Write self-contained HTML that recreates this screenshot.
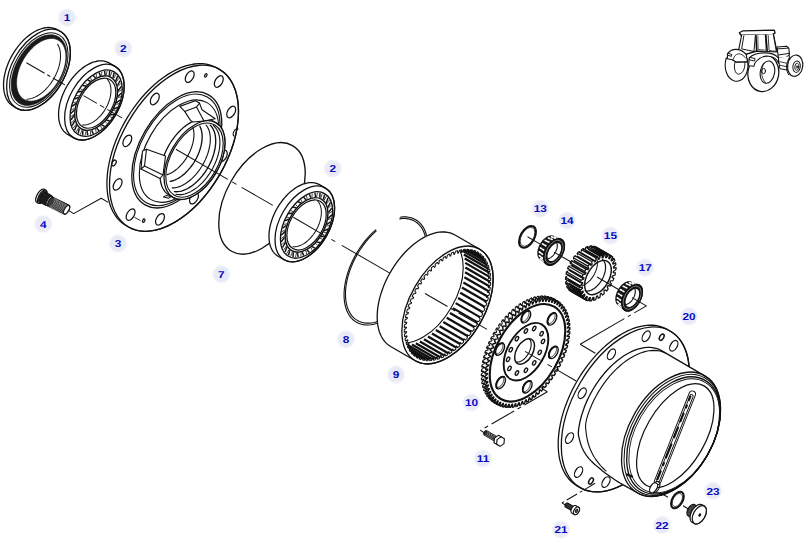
<!DOCTYPE html><html><head><meta charset="utf-8"><style>
html,body{margin:0;padding:0;background:#fff}
svg{display:block}
.lb{font-family:"Liberation Sans",sans-serif;font-weight:bold;font-size:10px;text-rendering:geometricPrecision;fill:#0808c0}
</style></head><body><svg width="808" height="546" viewBox="0 0 808 546">
<defs><radialGradient id="lg"><stop offset="0" stop-color="#e6e9f5"/><stop offset="0.74" stop-color="#e9ecf6"/><stop offset="1" stop-color="#ffffff" stop-opacity="0"/></radialGradient></defs>
<rect width="808" height="546" fill="#fff"/>
<path d="M13.3 106.29 L11.75 105.27 L10.32 104.07 L9.01 102.69 L7.83 101.15 L6.78 99.44 L5.87 97.58 L5.1 95.58 L4.49 93.44 L4.02 91.18 L3.71 88.81 L3.55 86.33 L3.54 83.77 L3.7 81.13 L4 78.42 L4.46 75.66 L5.07 72.87 L5.83 70.05 L6.73 67.23 L7.77 64.4 L8.94 61.6 L10.25 58.82 L11.68 56.09 L13.22 53.42 L14.87 50.82 L16.62 48.3 L18.46 45.88 L20.39 43.57 L22.38 41.38 L24.45 39.31 L26.56 37.39 L28.72 35.61 L30.91 33.99 L33.12 32.54 L35.34 31.26 L37.57 30.16 L39.78 29.25 L41.97 28.52 L44.13 27.99 L46.25 27.65 L48.31 27.5 L50.31 27.56 L52.24 27.81 L54.09 28.26 L55.84 28.9 L57.5 29.73 L60.6 31.53 L62.15 32.54 L63.58 33.74 L64.89 35.12 L66.07 36.66 L67.12 38.37 L68.03 40.23 L68.8 42.23 L69.41 44.37 L69.88 46.63 L70.19 49 L70.35 51.48 L70.36 54.04 L70.2 56.69 L69.9 59.39 L69.44 62.15 L68.83 64.94 L68.07 67.76 L67.17 70.59 L66.13 73.41 L64.96 76.22 L63.65 78.99 L62.22 81.72 L60.68 84.39 L59.03 86.99 L57.28 89.51 L55.44 91.93 L53.51 94.24 L51.52 96.44 L49.45 98.5 L47.34 100.43 L45.18 102.2 L42.99 103.82 L40.78 105.27 L38.56 106.55 L36.33 107.65 L34.12 108.57 L31.93 109.29 L29.77 109.83 L27.65 110.17 L25.59 110.31 L23.59 110.25 L21.66 110 L19.81 109.55 L18.06 108.91 L16.4 108.08 Z" fill="#fff" stroke="#111" stroke-width="1.29" stroke-linejoin="round" stroke-linecap="round" />
<ellipse cx="38.5" cy="69.8" rx="26.52" ry="44.2" transform="rotate(30 38.5 69.8)" fill="none" stroke="#111" stroke-width="1.29" />
<ellipse cx="38.8" cy="69.98" rx="24.36" ry="40.6" transform="rotate(30 38.8 69.98)" fill="none" stroke="#111" stroke-width="1.01" />
<path d="M59.06 81.67 L57.3 84.54 L55.4 87.3 L53.38 89.93 L51.25 92.41 L49.02 94.72 L46.72 96.84 L44.36 98.75 L41.96 100.45 L39.54 101.92 L37.11 103.14 L34.69 104.12 L32.31 104.83 L29.98 105.28 L27.72 105.47 L25.55 105.38 L23.48 105.02 L21.52 104.4 L19.7 103.52 L18.03 102.38 L16.51 101 L15.17 99.39 L14 97.54 L13.03 95.5 L12.26 93.25 L11.69 90.83 L11.32 88.26 L11.17 85.54 L11.23 82.71 L11.5 79.78 L11.98 76.78 L12.67 73.73 L13.55 70.64 L14.63 67.56 L15.9 64.49 L17.34 61.47 L18.94 58.51 L20.7 55.64 L22.6 52.88 L24.62 50.26 L26.75 47.78 L28.98 45.47 L31.28 43.35 L33.64 41.43 L36.04 39.73 L38.46 38.27 L40.89 37.04 L43.31 36.07 L45.69 35.35 L48.02 34.9 L50.28 34.72 L52.45 34.81 L54.52 35.16 L56.48 35.78 L58.3 36.66 L59.97 37.8 L61.49 39.18 L62.83 40.8 L64 42.64 L64.97 44.69 L65.74 46.93 L66.31 49.35 L66.68 51.93 L66.83 54.64 L66.77 57.48 L66.5 60.4 L66.02 63.41 L65.33 66.46 L64.45 69.54 L63.37 72.63 L62.1 75.69 L60.66 78.72 L59.06 81.67 Z M58.97 80.08 L57.41 82.62 L55.73 85.07 L53.94 87.4 L52.05 89.59 L50.08 91.63 L48.04 93.51 L45.95 95.21 L43.82 96.72 L41.67 98.02 L39.52 99.1 L37.39 99.97 L35.28 100.6 L33.21 101 L31.21 101.16 L29.28 101.08 L27.45 100.77 L25.71 100.22 L24.1 99.44 L22.62 98.43 L21.27 97.21 L20.08 95.77 L19.05 94.14 L18.19 92.33 L17.51 90.34 L17 88.2 L16.68 85.91 L16.54 83.51 L16.6 81 L16.83 78.4 L17.26 75.74 L17.87 73.04 L18.65 70.31 L19.61 67.57 L20.73 64.86 L22.01 62.18 L23.43 59.56 L24.99 57.02 L26.67 54.57 L28.46 52.24 L30.35 50.05 L32.32 48 L34.36 46.12 L36.45 44.43 L38.58 42.92 L40.73 41.62 L42.88 40.54 L45.01 39.67 L47.12 39.04 L49.19 38.64 L51.19 38.48 L53.12 38.55 L54.95 38.87 L56.69 39.42 L58.3 40.2 L59.78 41.21 L61.13 42.43 L62.32 43.87 L63.35 45.5 L64.21 47.31 L64.89 49.3 L65.4 51.44 L65.72 53.73 L65.86 56.13 L65.8 58.64 L65.57 61.24 L65.14 63.9 L64.53 66.6 L63.75 69.33 L62.79 72.06 L61.67 74.78 L60.39 77.46 L58.97 80.08 Z" fill="#1a1a1a" fill-rule="evenodd" stroke="#111" stroke-width="0.6"/>
<path d="M57.68 44.31 L58.43 45.67 L59.07 47.15 L59.59 48.73 L60 50.42 L60.29 52.2 L60.46 54.06 L60.51 55.99 L60.44 57.99 L60.25 60.04 L59.95 62.13 L59.52 64.26 L58.98 66.41 L58.33 68.57 L57.56 70.73 L56.69 72.87 L55.72 75 L54.66 77.1 L53.5 79.15 L52.26 81.15 L50.94 83.09 L49.54 84.96 L48.08 86.74 L46.57 88.43 L45 90.03 L43.39 91.52 L41.74 92.89 L40.07 94.14 L38.38 95.26 L36.69 96.25 L34.99 97.1 L33.3 97.81 L31.62 98.38 L29.97 98.79 L28.35 99.05 L26.77 99.16" fill="none" stroke="#111" stroke-width="1.01" stroke-linejoin="round" stroke-linecap="round" />
<path d="M67.69 134.43 L66.24 133.47 L64.9 132.35 L63.68 131.07 L62.57 129.62 L61.59 128.03 L60.74 126.29 L60.03 124.42 L59.45 122.42 L59.02 120.31 L58.72 118.09 L58.58 115.78 L58.57 113.38 L58.71 110.92 L59 108.39 L59.43 105.81 L60 103.2 L60.7 100.57 L61.55 97.93 L62.52 95.29 L63.62 92.67 L64.84 90.07 L66.17 87.52 L67.61 85.03 L69.15 82.6 L70.79 80.25 L72.51 77.98 L74.31 75.82 L76.18 73.77 L78.1 71.84 L80.08 70.04 L82.09 68.39 L84.14 66.87 L86.21 65.52 L88.28 64.32 L90.36 63.3 L92.43 62.44 L94.48 61.76 L96.5 61.26 L98.47 60.94 L100.4 60.81 L102.27 60.86 L104.07 61.1 L105.8 61.52 L107.44 62.11 L108.99 62.89 L115.05 66.39 L116.5 67.34 L117.84 68.46 L119.06 69.75 L120.17 71.19 L121.14 72.79 L121.99 74.52 L122.71 76.39 L123.28 78.39 L123.72 80.51 L124.01 82.72 L124.16 85.04 L124.17 87.43 L124.02 89.9 L123.74 92.43 L123.31 95.01 L122.74 97.62 L122.03 100.25 L121.19 102.89 L120.22 105.53 L119.12 108.15 L117.9 110.74 L116.57 113.29 L115.13 115.79 L113.58 118.22 L111.95 120.57 L110.23 122.83 L108.43 124.99 L106.56 127.04 L104.64 128.97 L102.66 130.77 L100.64 132.43 L98.6 133.94 L96.53 135.3 L94.45 136.49 L92.38 137.52 L90.31 138.38 L88.26 139.06 L86.24 139.56 L84.26 139.87 L82.34 140.01 L80.47 139.95 L78.66 139.72 L76.94 139.3 L75.3 138.7 L73.75 137.93 Z" fill="#fff" stroke="#111" stroke-width="1.29" stroke-linejoin="round" stroke-linecap="round" />
<ellipse cx="94.4" cy="102.16" rx="24.78" ry="41.3" transform="rotate(30 94.4 102.16)" fill="none" stroke="#111" stroke-width="1.29" />
<ellipse cx="96.13" cy="103.16" rx="21.72" ry="36.2" transform="rotate(30 96.13 103.16)" fill="none" stroke="#111" stroke-width="1.34" />
<line x1="114.16" y1="114.28" x2="110.3" y2="115.02" stroke="#111" stroke-width="1.46" />
<line x1="112.01" y1="117.65" x2="109.4" y2="116.33" stroke="#111" stroke-width="0.78" />
<line x1="109.71" y1="120.76" x2="106.2" y2="120.35" stroke="#111" stroke-width="1.46" />
<line x1="107.19" y1="123.72" x2="105.16" y2="121.48" stroke="#111" stroke-width="0.78" />
<line x1="104.58" y1="126.36" x2="101.6" y2="124.83" stroke="#111" stroke-width="1.46" />
<line x1="101.81" y1="128.76" x2="100.47" y2="125.72" stroke="#111" stroke-width="0.78" />
<line x1="99.03" y1="130.8" x2="96.72" y2="128.21" stroke="#111" stroke-width="1.46" />
<line x1="96.15" y1="132.52" x2="95.57" y2="128.83" stroke="#111" stroke-width="0.78" />
<line x1="93.33" y1="133.85" x2="91.81" y2="130.34" stroke="#111" stroke-width="1.46" />
<line x1="90.48" y1="134.81" x2="90.69" y2="130.65" stroke="#111" stroke-width="0.78" />
<line x1="87.77" y1="135.36" x2="87.12" y2="131.11" stroke="#111" stroke-width="1.46" />
<line x1="85.1" y1="135.51" x2="86.08" y2="131.09" stroke="#111" stroke-width="0.78" />
<line x1="82.63" y1="135.25" x2="82.88" y2="130.48" stroke="#111" stroke-width="1.46" />
<line x1="80.27" y1="134.58" x2="81.98" y2="130.13" stroke="#111" stroke-width="0.78" />
<line x1="78.16" y1="133.54" x2="79.31" y2="128.47" stroke="#111" stroke-width="1.46" />
<line x1="76.24" y1="132.09" x2="78.59" y2="127.82" stroke="#111" stroke-width="0.78" />
<line x1="74.6" y1="130.3" x2="76.58" y2="125.2" stroke="#111" stroke-width="1.46" />
<line x1="73.2" y1="128.14" x2="76.08" y2="124.27" stroke="#111" stroke-width="0.78" />
<line x1="72.12" y1="125.71" x2="74.83" y2="120.82" stroke="#111" stroke-width="1.46" />
<line x1="71.32" y1="122.93" x2="74.57" y2="119.66" stroke="#111" stroke-width="0.78" />
<line x1="70.84" y1="119.98" x2="74.15" y2="115.55" stroke="#111" stroke-width="1.46" />
<line x1="70.68" y1="116.74" x2="74.15" y2="114.23" stroke="#111" stroke-width="0.78" />
<line x1="70.83" y1="113.41" x2="74.57" y2="109.67" stroke="#111" stroke-width="1.46" />
<line x1="71.31" y1="109.87" x2="74.82" y2="108.24" stroke="#111" stroke-width="0.78" />
<line x1="72.09" y1="106.32" x2="76.07" y2="103.45" stroke="#111" stroke-width="1.46" />
<line x1="73.19" y1="102.65" x2="76.57" y2="101.99" stroke="#111" stroke-width="0.78" />
<line x1="74.55" y1="99.08" x2="78.58" y2="97.23" stroke="#111" stroke-width="1.46" />
<line x1="76.22" y1="95.47" x2="79.29" y2="95.81" stroke="#111" stroke-width="0.78" />
<line x1="78.1" y1="92.04" x2="81.96" y2="91.3" stroke="#111" stroke-width="1.46" />
<line x1="80.25" y1="88.67" x2="82.86" y2="89.99" stroke="#111" stroke-width="0.78" />
<line x1="82.55" y1="85.55" x2="86.06" y2="85.96" stroke="#111" stroke-width="1.46" />
<line x1="85.08" y1="82.6" x2="87.1" y2="84.83" stroke="#111" stroke-width="0.78" />
<line x1="87.68" y1="79.96" x2="90.67" y2="81.49" stroke="#111" stroke-width="1.46" />
<line x1="90.45" y1="77.55" x2="91.79" y2="80.59" stroke="#111" stroke-width="0.78" />
<line x1="93.24" y1="75.52" x2="95.54" y2="78.1" stroke="#111" stroke-width="1.46" />
<line x1="96.12" y1="73.79" x2="96.7" y2="77.49" stroke="#111" stroke-width="0.78" />
<line x1="98.94" y1="72.47" x2="100.45" y2="75.97" stroke="#111" stroke-width="1.46" />
<line x1="101.78" y1="71.51" x2="101.57" y2="75.67" stroke="#111" stroke-width="0.78" />
<line x1="104.5" y1="70.96" x2="105.14" y2="75.21" stroke="#111" stroke-width="1.46" />
<line x1="107.16" y1="70.81" x2="106.18" y2="75.23" stroke="#111" stroke-width="0.78" />
<line x1="109.64" y1="71.06" x2="109.38" y2="75.84" stroke="#111" stroke-width="1.46" />
<line x1="111.99" y1="71.73" x2="110.28" y2="76.19" stroke="#111" stroke-width="0.78" />
<line x1="114.1" y1="72.78" x2="112.96" y2="77.85" stroke="#111" stroke-width="1.46" />
<line x1="116.03" y1="74.23" x2="113.67" y2="78.5" stroke="#111" stroke-width="0.78" />
<line x1="117.66" y1="76.01" x2="115.69" y2="81.12" stroke="#111" stroke-width="1.46" />
<line x1="119.06" y1="78.18" x2="116.19" y2="82.05" stroke="#111" stroke-width="0.78" />
<line x1="120.14" y1="80.61" x2="117.44" y2="85.5" stroke="#111" stroke-width="1.46" />
<line x1="120.95" y1="83.38" x2="117.69" y2="86.66" stroke="#111" stroke-width="0.78" />
<line x1="121.42" y1="86.34" x2="118.12" y2="90.76" stroke="#111" stroke-width="1.46" />
<line x1="121.59" y1="89.58" x2="118.12" y2="92.09" stroke="#111" stroke-width="0.78" />
<line x1="121.43" y1="92.91" x2="117.7" y2="96.65" stroke="#111" stroke-width="1.46" />
<line x1="120.95" y1="96.45" x2="117.44" y2="98.08" stroke="#111" stroke-width="0.78" />
<line x1="120.17" y1="100" x2="116.2" y2="102.86" stroke="#111" stroke-width="1.46" />
<line x1="119.07" y1="103.66" x2="115.7" y2="104.33" stroke="#111" stroke-width="0.78" />
<line x1="117.71" y1="107.24" x2="113.69" y2="109.09" stroke="#111" stroke-width="1.46" />
<line x1="116.04" y1="110.85" x2="112.97" y2="110.51" stroke="#111" stroke-width="0.78" />
<ellipse cx="96.13" cy="103.16" rx="17.82" ry="29.7" transform="rotate(30 96.13 103.16)" fill="none" stroke="#111" stroke-width="1.46" />
<ellipse cx="96.13" cy="103.16" rx="16.38" ry="27.3" transform="rotate(30 96.13 103.16)" fill="#fff" stroke="#111" stroke-width="1.23" />
<path d="M107.3 79.36 L108.06 80.26 L108.75 81.26 L109.34 82.36 L109.85 83.55 L110.27 84.83 L110.59 86.18 L110.82 87.62 L110.95 89.11 L110.98 90.67 L110.92 92.28 L110.76 93.93 L110.5 95.61 L110.15 97.32 L109.71 99.05 L109.17 100.78 L108.55 102.52 L107.85 104.24 L107.06 105.95 L106.19 107.63 L105.25 109.27 L104.25 110.87 L103.18 112.42 L102.05 113.91 L100.87 115.33 L99.64 116.68 L98.38 117.95 L97.08 119.12 L95.75 120.21 L94.41 121.2 L93.05 122.08 L91.69 122.85 L90.32 123.51 L88.97 124.06 L87.62 124.49 L86.3 124.79 L85.01 124.98 L83.75 125.04 L82.53 124.98" fill="none" stroke="#111" stroke-width="1.01" stroke-linejoin="round" stroke-linecap="round" />
<path d="M125.9 225.54 L122.82 223.51 L119.98 221.1 L117.39 218.33 L115.07 215.21 L113.01 211.76 L111.24 207.99 L109.77 203.93 L108.59 199.58 L107.72 194.98 L107.17 190.14 L106.92 185.09 L106.99 179.85 L107.37 174.45 L108.06 168.92 L109.07 163.28 L110.37 157.56 L111.98 151.78 L113.87 145.99 L116.04 140.19 L118.49 134.43 L121.19 128.72 L124.13 123.11 L127.31 117.61 L130.7 112.25 L134.29 107.06 L138.06 102.06 L141.99 97.28 L146.07 92.74 L150.26 88.46 L154.57 84.47 L158.95 80.78 L163.4 77.42 L167.88 74.39 L172.38 71.71 L176.88 69.4 L181.35 67.46 L185.77 65.91 L190.12 64.76 L194.38 64 L198.52 63.65 L202.54 63.7 L206.4 64.16 L210.1 65.02 L213.6 66.27 L216.9 67.92 L219.5 69.42 L222.58 71.46 L225.42 73.86 L228.01 76.63 L230.34 79.75 L232.39 83.2 L234.16 86.97 L235.63 91.04 L236.81 95.38 L237.68 99.99 L238.24 104.82 L238.48 109.87 L238.41 115.11 L238.03 120.51 L237.34 126.04 L236.33 131.68 L235.03 137.4 L233.43 143.18 L231.53 148.98 L229.36 154.77 L226.92 160.54 L224.21 166.24 L221.27 171.85 L218.09 177.36 L214.7 182.71 L211.11 187.9 L207.34 192.9 L203.41 197.68 L199.34 202.22 L195.14 206.5 L190.84 210.49 L186.45 214.18 L182.01 217.55 L177.52 220.58 L173.02 223.25 L168.53 225.56 L164.06 227.5 L159.64 229.05 L155.28 230.2 L151.03 230.96 L146.88 231.31 L142.86 231.26 L139 230.8 L135.3 229.95 L131.8 228.69 L128.5 227.04 Z" fill="#fff" stroke="#111" stroke-width="1.29" stroke-linejoin="round" stroke-linecap="round" />
<ellipse cx="174" cy="148.23" rx="52.78" ry="91" transform="rotate(30 174 148.23)" fill="none" stroke="#111" stroke-width="1.29" />
<ellipse cx="189.7" cy="76.7" rx="3.65" ry="6.3" transform="rotate(30 189.7 76.7)" fill="none" stroke="#111" stroke-width="1.23" />
<ellipse cx="218.8" cy="81.5" rx="3.65" ry="6.3" transform="rotate(30 218.8 81.5)" fill="none" stroke="#111" stroke-width="1.23" />
<ellipse cx="154.8" cy="99" rx="3.65" ry="6.3" transform="rotate(30 154.8 99)" fill="none" stroke="#111" stroke-width="1.23" />
<ellipse cx="231.2" cy="112" rx="3.65" ry="6.3" transform="rotate(30 231.2 112)" fill="none" stroke="#111" stroke-width="1.23" />
<ellipse cx="127.3" cy="140.8" rx="3.65" ry="6.3" transform="rotate(30 127.3 140.8)" fill="none" stroke="#111" stroke-width="1.23" />
<ellipse cx="117.6" cy="184.4" rx="3.65" ry="6.3" transform="rotate(30 117.6 184.4)" fill="none" stroke="#111" stroke-width="1.23" />
<ellipse cx="130.6" cy="214.6" rx="3.65" ry="6.3" transform="rotate(30 130.6 214.6)" fill="none" stroke="#111" stroke-width="1.23" />
<ellipse cx="160" cy="219.3" rx="3.65" ry="6.3" transform="rotate(30 160 219.3)" fill="none" stroke="#111" stroke-width="1.23" />
<ellipse cx="194" cy="198.2" rx="3.65" ry="6.3" transform="rotate(30 194 198.2)" fill="none" stroke="#111" stroke-width="1.23" />
<ellipse cx="222.8" cy="156" rx="3.65" ry="6.3" transform="rotate(30 222.8 156)" fill="none" stroke="#111" stroke-width="1.23" />
<ellipse cx="205.8" cy="75.4" rx="1.04" ry="1.8" transform="rotate(30 205.8 75.4)" fill="none" stroke="#111" stroke-width="1.23" />
<ellipse cx="143.7" cy="220.6" rx="1.04" ry="1.8" transform="rotate(30 143.7 220.6)" fill="none" stroke="#111" stroke-width="1.23" />
<ellipse cx="114" cy="163" rx="1.86" ry="3.2" transform="rotate(30 114 163)" fill="none" stroke="#111" stroke-width="1.23" />
<path d="M234 135.96 L233.86 135.87 L233.74 135.77 L233.63 135.65 L233.52 135.51 L233.43 135.36 L233.36 135.19 L233.29 135.01 L233.24 134.82 L233.2 134.62 L233.18 134.41 L233.17 134.19 L233.17 133.96 L233.19 133.72 L233.22 133.48 L233.26 133.23 L233.32 132.98 L233.39 132.72 L233.47 132.47 L233.57 132.21 L233.67 131.96 L233.79 131.71 L233.92 131.46 L234.06 131.22 L234.21 130.98 L234.37 130.76 L234.53 130.54 L234.71 130.33 L234.89 130.13 L235.07 129.94 L235.26 129.76 L235.45 129.6 L235.65 129.45 L235.85 129.32 L236.04 129.2 L236.24 129.1 L236.44 129.02 L236.63 128.95 L236.82 128.9 L237.01 128.86 L237.19 128.85 L237.37 128.85 L237.54 128.87 L237.7 128.91 L237.85 128.96 L238 129.04" fill="none" stroke="#111" stroke-width="1.12" stroke-linejoin="round" stroke-linecap="round" />
<ellipse cx="176.8" cy="149.85" rx="36.83" ry="63.5" transform="rotate(30 176.8 149.85)" fill="#fff" stroke="#111" stroke-width="1.29" />
<ellipse cx="176.8" cy="149.85" rx="35.38" ry="61" transform="rotate(30 176.8 149.85)" fill="none" stroke="#111" stroke-width="1.12" />
<ellipse cx="179" cy="151.12" rx="32.48" ry="56" transform="rotate(30 179 151.12)" fill="none" stroke="#111" stroke-width="1.12" />
<path d="M169 195.02 L167.55 194.06 L166.2 192.92 L164.98 191.61 L163.88 190.14 L162.91 188.51 L162.07 186.73 L161.38 184.81 L160.82 182.75 L160.41 180.58 L160.15 178.29 L160.03 175.91 L160.06 173.43 L160.24 170.88 L160.57 168.27 L161.05 165.6 L161.66 162.9 L162.42 160.17 L163.31 157.43 L164.34 154.69 L165.5 151.97 L166.77 149.27 L168.16 146.62 L169.66 144.02 L171.27 141.49 L172.96 139.03 L174.74 136.67 L176.6 134.41 L178.53 132.27 L180.51 130.25 L182.54 128.36 L184.62 126.62 L186.72 125.03 L188.84 123.6 L190.96 122.33 L193.09 121.24 L195.2 120.32 L197.29 119.59 L199.34 119.05 L201.36 118.69 L203.32 118.52 L205.21 118.55 L207.04 118.76 L208.78 119.17 L210.44 119.76 L212 120.54 L216 122.86 L217.45 123.82 L218.8 124.96 L220.02 126.26 L221.12 127.74 L222.09 129.37 L222.93 131.15 L223.62 133.07 L224.18 135.12 L224.59 137.3 L224.85 139.59 L224.97 141.97 L224.94 144.45 L224.76 147 L224.43 149.61 L223.95 152.28 L223.34 154.98 L222.58 157.71 L221.69 160.45 L220.66 163.19 L219.5 165.91 L218.23 168.61 L216.84 171.26 L215.34 173.86 L213.73 176.39 L212.04 178.84 L210.26 181.2 L208.4 183.46 L206.47 185.61 L204.49 187.63 L202.46 189.52 L200.38 191.26 L198.28 192.85 L196.16 194.28 L194.04 195.55 L191.91 196.64 L189.8 197.55 L187.71 198.28 L185.66 198.83 L183.64 199.19 L181.68 199.35 L179.79 199.33 L177.96 199.11 L176.22 198.71 L174.56 198.11 L173 197.34 Z" fill="#fff" stroke="#111" stroke-width="1.29" stroke-linejoin="round" stroke-linecap="round" />
<path d="M179.8 106.4 L195.4 100.7 L199.5 103.1 L202 109.7 L215.2 118.8 L204 121 L193 122 L190.5 120.4 L184.7 111.4 Z" fill="#fff" stroke="#111" stroke-width="1.12" stroke-linejoin="round" stroke-linecap="round" />
<path d="M184.7 111.4 L196.5 107 L199.5 103.1" fill="none" stroke="#111" stroke-width="1.12" stroke-linejoin="round" stroke-linecap="round" />
<path d="M196.5 107 L204 121" fill="none" stroke="#111" stroke-width="1.12" stroke-linejoin="round" stroke-linecap="round" />
<path d="M146.5 149.3 L165.5 156 L163 175 L160 178.5 L141 169 L142.5 151 Z" fill="#fff" stroke="#111" stroke-width="1.12" stroke-linejoin="round" stroke-linecap="round" />
<path d="M146.5 149.3 L144.5 166 L163 175" fill="none" stroke="#111" stroke-width="1.12" stroke-linejoin="round" stroke-linecap="round" />
<path d="M144.5 166 L141 169" fill="none" stroke="#111" stroke-width="1.12" stroke-linejoin="round" stroke-linecap="round" />
<path d="M163.5 197 L166 195.6 L171 196.6 L168.5 198.3 L163.5 197" fill="none" stroke="#111" stroke-width="1.01" stroke-linejoin="round" stroke-linecap="round" />
<ellipse cx="194.5" cy="160.1" rx="24.94" ry="43" transform="rotate(30 194.5 160.1)" fill="#fff" stroke="#111" stroke-width="1.29" />
<ellipse cx="194.5" cy="160.1" rx="23.49" ry="40.5" transform="rotate(30 194.5 160.1)" fill="none" stroke="#111" stroke-width="1.12" />
<path d="M213.31 125.52 L214.52 126.61 L215.62 127.86 L216.61 129.26 L217.47 130.8 L218.21 132.49 L218.81 134.3 L219.29 136.23 L219.63 138.27 L219.83 140.41 L219.9 142.65 L219.82 144.96 L219.61 147.33 L219.27 149.77 L218.78 152.24 L218.17 154.75 L217.42 157.28 L216.55 159.81 L215.56 162.34 L214.45 164.85 L213.23 167.32 L211.91 169.76 L210.49 172.14 L208.97 174.45 L207.37 176.69 L205.7 178.83 L203.95 180.88 L202.15 182.82 L200.3 184.63 L198.4 186.32 L196.47 187.87 L194.52 189.28 L192.56 190.54 L190.6 191.63 L188.64 192.57 L186.69 193.34 L184.78 193.93 L182.89 194.36 L181.06 194.6 L179.27 194.67 L177.55 194.56 L175.9 194.27" fill="none" stroke="#111" stroke-width="1.12" stroke-linejoin="round" stroke-linecap="round" />
<path d="M210.19 125.13 L211.3 126.32 L212.3 127.66 L213.17 129.14 L213.92 130.76 L214.55 132.51 L215.04 134.38 L215.4 136.36 L215.63 138.45 L215.72 140.62 L215.68 142.87 L215.49 145.19 L215.18 147.57 L214.73 150 L214.15 152.45 L213.43 154.93 L212.6 157.42 L211.64 159.9 L210.57 162.36 L209.39 164.8 L208.1 167.19 L206.72 169.53 L205.24 171.81 L203.68 174.01 L202.04 176.13 L200.33 178.15 L198.57 180.05 L196.75 181.85 L194.9 183.51 L193.01 185.04 L191.1 186.43 L189.17 187.67 L187.24 188.76 L185.32 189.68 L183.41 190.44 L181.53 191.03 L179.68 191.45 L177.88 191.69 L176.13 191.76 L174.44 191.65" fill="none" stroke="#111" stroke-width="1.34" stroke-linejoin="round" stroke-linecap="round" />
<path d="M206.07 124.98 L207.03 126.27 L207.87 127.7 L208.59 129.25 L209.2 130.93 L209.67 132.73 L210.02 134.64 L210.24 136.64 L210.33 138.73 L210.29 140.89 L210.11 143.13 L209.81 145.41 L209.37 147.74 L208.82 150.1 L208.13 152.49 L207.33 154.88 L206.41 157.26 L205.38 159.63 L204.24 161.98 L203 164.28 L201.67 166.53 L200.25 168.72 L198.75 170.84 L197.17 172.87 L195.53 174.81 L193.84 176.65 L192.09 178.37 L190.31 179.97 L188.49 181.44 L186.65 182.78 L184.8 183.97 L182.94 185.01 L181.09 185.9 L179.26 186.63 L177.45 187.19 L175.67 187.59 L173.94 187.82 L172.26 187.89" fill="none" stroke="#111" stroke-width="1.12" stroke-linejoin="round" stroke-linecap="round" />
<path d="M199.86 126.3 L200.53 127.73 L201.09 129.27 L201.53 130.93 L201.85 132.68 L202.06 134.52 L202.14 136.44 L202.1 138.43 L201.94 140.49 L201.67 142.59 L201.27 144.74 L200.76 146.91 L200.13 149.1 L199.39 151.3 L198.54 153.5 L197.6 155.68 L196.55 157.84 L195.41 159.96 L194.18 162.03 L192.87 164.05 L191.49 165.99 L190.04 167.86 L188.53 169.65 L186.97 171.34 L185.36 172.92 L183.72 174.39 L182.05 175.75 L180.35 176.97 L178.65 178.07 L176.94 179.02 L175.24 179.84 L173.55 180.5 L171.89 181.02 L170.25 181.38" fill="none" stroke="#111" stroke-width="1.34" stroke-linejoin="round" stroke-linecap="round" />
<path d="M192.98 127.61 L193.38 129.09 L193.68 130.66 L193.87 132.31 L193.95 134.03 L193.93 135.81 L193.8 137.65 L193.56 139.54 L193.22 141.46 L192.77 143.41 L192.23 145.37 L191.58 147.35 L190.84 149.32 L190.01 151.29 L189.09 153.23 L188.09 155.14 L187 157.02 L185.85 158.84 L184.63 160.61 L183.34 162.31 L182 163.94 L180.61 165.49 L179.18 166.95 L177.72 168.31 L176.22 169.56 L174.71 170.71 L173.18 171.74 L171.65 172.65 L170.12 173.44 L168.6 174.1 L167.09 174.63" fill="none" stroke="#111" stroke-width="1.12" stroke-linejoin="round" stroke-linecap="round" />
<ellipse cx="262" cy="198.4" rx="35.38" ry="61" transform="rotate(30 262 198.4)" fill="none" stroke="#111" stroke-width="1.34" />
<path d="M278.09 256.2 L276.64 255.25 L275.3 254.13 L274.08 252.85 L272.97 251.4 L271.99 249.81 L271.14 248.07 L270.43 246.2 L269.85 244.2 L269.42 242.09 L269.12 239.87 L268.98 237.56 L268.97 235.16 L269.11 232.69 L269.4 230.17 L269.83 227.59 L270.4 224.98 L271.1 222.35 L271.95 219.71 L272.92 217.07 L274.02 214.45 L275.24 211.85 L276.57 209.3 L278.01 206.81 L279.55 204.38 L281.19 202.03 L282.91 199.76 L284.71 197.6 L286.58 195.55 L288.5 193.62 L290.48 191.82 L292.49 190.17 L294.54 188.65 L296.61 187.3 L298.68 186.1 L300.76 185.07 L302.83 184.22 L304.88 183.54 L306.9 183.04 L308.87 182.72 L310.8 182.59 L312.67 182.64 L314.47 182.88 L316.2 183.29 L317.84 183.89 L319.39 184.67 L325.45 188.17 L326.9 189.12 L328.24 190.24 L329.46 191.53 L330.57 192.97 L331.54 194.57 L332.39 196.3 L333.11 198.17 L333.68 200.17 L334.12 202.28 L334.41 204.5 L334.56 206.82 L334.57 209.21 L334.42 211.68 L334.14 214.21 L333.71 216.78 L333.14 219.39 L332.43 222.03 L331.59 224.67 L330.62 227.31 L329.52 229.93 L328.3 232.52 L326.97 235.07 L325.53 237.57 L323.98 240 L322.35 242.35 L320.63 244.61 L318.83 246.77 L316.96 248.82 L315.04 250.75 L313.06 252.55 L311.04 254.21 L309 255.72 L306.93 257.08 L304.85 258.27 L302.78 259.3 L300.71 260.16 L298.66 260.84 L296.64 261.33 L294.66 261.65 L292.74 261.79 L290.87 261.73 L289.06 261.5 L287.34 261.08 L285.7 260.48 L284.15 259.7 Z" fill="#fff" stroke="#111" stroke-width="1.29" stroke-linejoin="round" stroke-linecap="round" />
<ellipse cx="304.8" cy="223.94" rx="24.78" ry="41.3" transform="rotate(30 304.8 223.94)" fill="none" stroke="#111" stroke-width="1.29" />
<ellipse cx="306.53" cy="224.94" rx="21.72" ry="36.2" transform="rotate(30 306.53 224.94)" fill="none" stroke="#111" stroke-width="1.34" />
<line x1="324.56" y1="236.06" x2="320.7" y2="236.8" stroke="#111" stroke-width="1.46" />
<line x1="322.41" y1="239.43" x2="319.8" y2="238.11" stroke="#111" stroke-width="0.78" />
<line x1="320.11" y1="242.54" x2="316.6" y2="242.13" stroke="#111" stroke-width="1.46" />
<line x1="317.59" y1="245.5" x2="315.56" y2="243.26" stroke="#111" stroke-width="0.78" />
<line x1="314.98" y1="248.14" x2="312" y2="246.61" stroke="#111" stroke-width="1.46" />
<line x1="312.21" y1="250.54" x2="310.87" y2="247.5" stroke="#111" stroke-width="0.78" />
<line x1="309.43" y1="252.58" x2="307.12" y2="249.99" stroke="#111" stroke-width="1.46" />
<line x1="306.55" y1="254.3" x2="305.97" y2="250.61" stroke="#111" stroke-width="0.78" />
<line x1="303.73" y1="255.63" x2="302.21" y2="252.12" stroke="#111" stroke-width="1.46" />
<line x1="300.88" y1="256.59" x2="301.09" y2="252.43" stroke="#111" stroke-width="0.78" />
<line x1="298.17" y1="257.14" x2="297.52" y2="252.89" stroke="#111" stroke-width="1.46" />
<line x1="295.5" y1="257.29" x2="296.48" y2="252.87" stroke="#111" stroke-width="0.78" />
<line x1="293.03" y1="257.03" x2="293.28" y2="252.26" stroke="#111" stroke-width="1.46" />
<line x1="290.67" y1="256.36" x2="292.38" y2="251.91" stroke="#111" stroke-width="0.78" />
<line x1="288.56" y1="255.32" x2="289.71" y2="250.25" stroke="#111" stroke-width="1.46" />
<line x1="286.64" y1="253.86" x2="288.99" y2="249.6" stroke="#111" stroke-width="0.78" />
<line x1="285" y1="252.08" x2="286.98" y2="246.98" stroke="#111" stroke-width="1.46" />
<line x1="283.6" y1="249.92" x2="286.48" y2="246.05" stroke="#111" stroke-width="0.78" />
<line x1="282.52" y1="247.48" x2="285.23" y2="242.6" stroke="#111" stroke-width="1.46" />
<line x1="281.72" y1="244.71" x2="284.97" y2="241.44" stroke="#111" stroke-width="0.78" />
<line x1="281.24" y1="241.76" x2="284.55" y2="237.33" stroke="#111" stroke-width="1.46" />
<line x1="281.08" y1="238.52" x2="284.55" y2="236" stroke="#111" stroke-width="0.78" />
<line x1="281.23" y1="235.18" x2="284.97" y2="231.45" stroke="#111" stroke-width="1.46" />
<line x1="281.71" y1="231.65" x2="285.22" y2="230.02" stroke="#111" stroke-width="0.78" />
<line x1="282.49" y1="228.1" x2="286.47" y2="225.23" stroke="#111" stroke-width="1.46" />
<line x1="283.59" y1="224.43" x2="286.97" y2="223.77" stroke="#111" stroke-width="0.78" />
<line x1="284.95" y1="220.86" x2="288.98" y2="219.01" stroke="#111" stroke-width="1.46" />
<line x1="286.62" y1="217.25" x2="289.69" y2="217.59" stroke="#111" stroke-width="0.78" />
<line x1="288.5" y1="213.82" x2="292.36" y2="213.08" stroke="#111" stroke-width="1.46" />
<line x1="290.65" y1="210.45" x2="293.26" y2="211.77" stroke="#111" stroke-width="0.78" />
<line x1="292.95" y1="207.33" x2="296.46" y2="207.74" stroke="#111" stroke-width="1.46" />
<line x1="295.48" y1="204.37" x2="297.5" y2="206.61" stroke="#111" stroke-width="0.78" />
<line x1="298.08" y1="201.74" x2="301.07" y2="203.27" stroke="#111" stroke-width="1.46" />
<line x1="300.85" y1="199.33" x2="302.19" y2="202.37" stroke="#111" stroke-width="0.78" />
<line x1="303.64" y1="197.3" x2="305.94" y2="199.88" stroke="#111" stroke-width="1.46" />
<line x1="306.52" y1="195.57" x2="307.1" y2="199.27" stroke="#111" stroke-width="0.78" />
<line x1="309.34" y1="194.25" x2="310.85" y2="197.75" stroke="#111" stroke-width="1.46" />
<line x1="312.18" y1="193.29" x2="311.97" y2="197.45" stroke="#111" stroke-width="0.78" />
<line x1="314.9" y1="192.74" x2="315.54" y2="196.99" stroke="#111" stroke-width="1.46" />
<line x1="317.56" y1="192.59" x2="316.58" y2="197.01" stroke="#111" stroke-width="0.78" />
<line x1="320.04" y1="192.84" x2="319.78" y2="197.62" stroke="#111" stroke-width="1.46" />
<line x1="322.39" y1="193.51" x2="320.68" y2="197.97" stroke="#111" stroke-width="0.78" />
<line x1="324.5" y1="194.56" x2="323.36" y2="199.63" stroke="#111" stroke-width="1.46" />
<line x1="326.43" y1="196.01" x2="324.07" y2="200.28" stroke="#111" stroke-width="0.78" />
<line x1="328.06" y1="197.79" x2="326.09" y2="202.9" stroke="#111" stroke-width="1.46" />
<line x1="329.46" y1="199.96" x2="326.59" y2="203.83" stroke="#111" stroke-width="0.78" />
<line x1="330.54" y1="202.39" x2="327.84" y2="207.28" stroke="#111" stroke-width="1.46" />
<line x1="331.35" y1="205.16" x2="328.09" y2="208.44" stroke="#111" stroke-width="0.78" />
<line x1="331.82" y1="208.12" x2="328.52" y2="212.54" stroke="#111" stroke-width="1.46" />
<line x1="331.99" y1="211.36" x2="328.52" y2="213.87" stroke="#111" stroke-width="0.78" />
<line x1="331.83" y1="214.69" x2="328.1" y2="218.43" stroke="#111" stroke-width="1.46" />
<line x1="331.35" y1="218.23" x2="327.84" y2="219.86" stroke="#111" stroke-width="0.78" />
<line x1="330.57" y1="221.78" x2="326.6" y2="224.64" stroke="#111" stroke-width="1.46" />
<line x1="329.47" y1="225.44" x2="326.1" y2="226.1" stroke="#111" stroke-width="0.78" />
<line x1="328.11" y1="229.02" x2="324.09" y2="230.87" stroke="#111" stroke-width="1.46" />
<line x1="326.44" y1="232.63" x2="323.37" y2="232.29" stroke="#111" stroke-width="0.78" />
<ellipse cx="306.53" cy="224.94" rx="17.82" ry="29.7" transform="rotate(30 306.53 224.94)" fill="none" stroke="#111" stroke-width="1.46" />
<ellipse cx="306.53" cy="224.94" rx="16.38" ry="27.3" transform="rotate(30 306.53 224.94)" fill="#fff" stroke="#111" stroke-width="1.23" />
<path d="M317.7 201.14 L318.46 202.03 L319.15 203.04 L319.74 204.13 L320.25 205.33 L320.67 206.61 L320.99 207.96 L321.22 209.4 L321.35 210.89 L321.38 212.45 L321.32 214.06 L321.16 215.71 L320.9 217.39 L320.55 219.1 L320.11 220.83 L319.57 222.56 L318.95 224.3 L318.25 226.02 L317.46 227.73 L316.59 229.41 L315.65 231.05 L314.65 232.65 L313.58 234.2 L312.45 235.69 L311.27 237.11 L310.04 238.46 L308.78 239.72 L307.48 240.9 L306.15 241.99 L304.81 242.98 L303.45 243.86 L302.09 244.63 L300.72 245.29 L299.37 245.84 L298.02 246.27 L296.7 246.57 L295.41 246.76 L294.15 246.82 L292.93 246.75" fill="none" stroke="#111" stroke-width="1.01" stroke-linejoin="round" stroke-linecap="round" />
<path d="M376.66 323.51 L373.81 324.27 L371.02 324.76 L368.3 324.99 L365.68 324.95 L363.15 324.64 L360.73 324.07 L358.44 323.23 L356.29 322.14 L354.28 320.8 L352.43 319.21 L350.75 317.38 L349.24 315.32 L347.91 313.04 L346.77 310.55 L345.82 307.87 L345.07 305.01 L344.52 301.98 L344.18 298.79 L344.05 295.47 L344.12 292.03 L344.39 288.48 L344.88 284.85 L345.56 281.14 L346.45 277.39 L347.53 273.6 L348.8 269.81 L350.26 266.01 L351.89 262.25 L353.69 258.52 L355.65 254.86 L357.75 251.27 L360 247.78 L362.38 244.41 L364.87 241.17 L367.47 238.07 L370.16 235.14 L372.92 232.38 L375.76 229.82" fill="none" stroke="#111" stroke-width="1.12" stroke-linejoin="round" stroke-linecap="round" />
<path d="M376.97 321.74 L374.22 322.47 L371.52 322.94 L368.9 323.16 L366.36 323.12 L363.92 322.83 L361.59 322.27 L359.38 321.47 L357.29 320.41 L355.36 319.11 L353.57 317.57 L351.94 315.81 L350.48 313.82 L349.2 311.62 L348.09 309.22 L347.18 306.63 L346.45 303.86 L345.93 300.93 L345.59 297.85 L345.46 294.64 L345.53 291.31 L345.8 287.89 L346.27 284.38 L346.93 280.8 L347.79 277.17 L348.83 273.51 L350.06 269.84 L351.46 266.18 L353.04 262.54 L354.78 258.94 L356.67 255.4 L358.71 251.94 L360.88 248.57 L363.18 245.31 L365.59 242.17 L368.1 239.18 L370.69 236.35 L373.37 233.68 L376.1 231.2" fill="none" stroke="#111" stroke-width="1.12" stroke-linejoin="round" stroke-linecap="round" />
<path d="M400.26 217.22 L403.13 216.91 L405.91 216.9 L408.58 217.19 L411.13 217.76 L413.54 218.63 L415.8 219.78 L417.9 221.22 L419.82 222.92 L421.56 224.88 L423.11 227.1 L424.45 229.55 L425.58 232.23 L426.5 235.12" fill="none" stroke="#111" stroke-width="1.12" stroke-linejoin="round" stroke-linecap="round" />
<path d="M399.83 218.85 L402.61 218.55 L405.31 218.54 L407.89 218.82 L410.36 219.38 L412.7 220.22 L414.89 221.34 L416.93 222.73 L418.79 224.38 L420.48 226.28 L421.98 228.43 L423.28 230.81 L424.38 233.41 L425.27 236.21" fill="none" stroke="#111" stroke-width="1.12" stroke-linejoin="round" stroke-linecap="round" />
<path d="M390.62 346.52 L388.44 345.08 L386.43 343.38 L384.6 341.42 L382.95 339.21 L381.5 336.77 L380.25 334.1 L379.2 331.23 L378.37 328.15 L377.75 324.89 L377.36 321.47 L377.18 317.9 L377.23 314.19 L377.5 310.37 L377.99 306.45 L378.7 302.46 L379.63 298.41 L380.76 294.33 L382.1 290.22 L383.64 286.12 L385.37 282.04 L387.28 278.01 L389.37 274.03 L391.61 270.14 L394.01 266.35 L396.55 262.67 L399.22 259.14 L402 255.75 L404.89 252.54 L407.86 249.52 L410.9 246.69 L414.01 244.08 L417.15 241.7 L420.33 239.55 L423.51 237.66 L426.69 236.02 L429.86 234.65 L432.98 233.56 L436.06 232.74 L439.08 232.2 L442.01 231.95 L444.85 231.99 L447.59 232.31 L450.2 232.92 L452.68 233.81 L455.02 234.98 L479.7 249.23 L481.88 250.67 L483.89 252.37 L485.72 254.33 L487.37 256.54 L488.82 258.98 L490.07 261.65 L491.12 264.52 L491.95 267.6 L492.56 270.86 L492.96 274.28 L493.13 277.85 L493.09 281.56 L492.81 285.38 L492.32 289.3 L491.61 293.29 L490.69 297.34 L489.55 301.42 L488.21 305.53 L486.68 309.63 L484.95 313.71 L483.04 317.74 L480.95 321.72 L478.7 325.61 L476.3 329.4 L473.76 333.08 L471.1 336.61 L468.31 340 L465.43 343.21 L462.46 346.23 L459.41 349.06 L456.31 351.67 L453.17 354.05 L449.99 356.2 L446.81 358.09 L443.63 359.73 L440.46 361.1 L437.33 362.19 L434.26 363.01 L431.24 363.55 L428.31 363.8 L425.46 363.76 L422.73 363.44 L420.12 362.83 L417.63 361.94 L415.3 360.77 Z" fill="#fff" stroke="#111" stroke-width="1.29" stroke-linejoin="round" stroke-linecap="round" />
<ellipse cx="447.5" cy="305" rx="37.35" ry="64.4" transform="rotate(30 447.5 305)" fill="none" stroke="#111" stroke-width="1.29" />
<clipPath id="rgc"><ellipse cx="447.5" cy="305" rx="35.09" ry="60.5" transform="rotate(30 447.5 305)"/></clipPath>
<g clip-path="url(#rgc)">
<line x1="477.64" y1="322.4" x2="452.96" y2="308.15" stroke="#111" stroke-width="2.24" />
<line x1="474.65" y1="327.26" x2="449.97" y2="313.01" stroke="#111" stroke-width="2.24" />
<line x1="471.42" y1="331.92" x2="446.73" y2="317.67" stroke="#111" stroke-width="2.24" />
<line x1="467.96" y1="336.33" x2="443.28" y2="322.08" stroke="#111" stroke-width="2.24" />
<line x1="464.33" y1="340.47" x2="439.65" y2="326.22" stroke="#111" stroke-width="2.24" />
<line x1="460.54" y1="344.28" x2="435.86" y2="330.03" stroke="#111" stroke-width="2.24" />
<line x1="456.63" y1="347.73" x2="431.95" y2="333.48" stroke="#111" stroke-width="2.24" />
<line x1="452.65" y1="350.8" x2="427.96" y2="336.55" stroke="#111" stroke-width="2.24" />
<line x1="448.61" y1="353.45" x2="423.93" y2="339.2" stroke="#111" stroke-width="2.24" />
<line x1="444.56" y1="355.66" x2="419.88" y2="341.41" stroke="#111" stroke-width="2.24" />
<line x1="440.54" y1="357.42" x2="415.86" y2="343.17" stroke="#111" stroke-width="2.24" />
<line x1="436.59" y1="358.7" x2="411.91" y2="344.45" stroke="#111" stroke-width="2.24" />
<line x1="432.73" y1="359.49" x2="408.05" y2="345.24" stroke="#111" stroke-width="2.24" />
<line x1="429.01" y1="359.79" x2="404.33" y2="345.54" stroke="#111" stroke-width="2.24" />
<line x1="425.45" y1="359.6" x2="400.77" y2="345.35" stroke="#111" stroke-width="2.24" />
<line x1="422.09" y1="358.91" x2="397.41" y2="344.66" stroke="#111" stroke-width="2.24" />
<line x1="418.97" y1="357.73" x2="394.29" y2="343.48" stroke="#111" stroke-width="2.24" />
<line x1="416.1" y1="356.07" x2="391.42" y2="341.82" stroke="#111" stroke-width="2.24" />
<line x1="413.52" y1="353.96" x2="388.83" y2="339.71" stroke="#111" stroke-width="2.24" />
<line x1="411.24" y1="351.39" x2="386.56" y2="337.14" stroke="#111" stroke-width="2.24" />
<line x1="409.29" y1="348.41" x2="384.61" y2="334.16" stroke="#111" stroke-width="2.24" />
<line x1="407.69" y1="345.04" x2="383.01" y2="330.79" stroke="#111" stroke-width="2.24" />
<line x1="406.45" y1="341.3" x2="381.77" y2="327.05" stroke="#111" stroke-width="2.24" />
<line x1="405.58" y1="337.23" x2="380.9" y2="322.98" stroke="#111" stroke-width="2.24" />
<line x1="405.09" y1="332.88" x2="380.41" y2="318.63" stroke="#111" stroke-width="2.24" />
<line x1="404.99" y1="328.26" x2="380.3" y2="314.01" stroke="#111" stroke-width="2.24" />
<line x1="405.27" y1="323.44" x2="380.58" y2="309.19" stroke="#111" stroke-width="2.24" />
<line x1="405.93" y1="318.45" x2="381.25" y2="304.2" stroke="#111" stroke-width="2.24" />
<line x1="406.97" y1="313.34" x2="382.28" y2="299.09" stroke="#111" stroke-width="2.24" />
<line x1="408.37" y1="308.16" x2="383.69" y2="293.91" stroke="#111" stroke-width="2.24" />
<line x1="410.13" y1="302.94" x2="385.45" y2="288.69" stroke="#111" stroke-width="2.24" />
<line x1="412.23" y1="297.75" x2="387.55" y2="283.5" stroke="#111" stroke-width="2.24" />
<line x1="414.65" y1="292.62" x2="389.97" y2="278.37" stroke="#111" stroke-width="2.24" />
<line x1="417.36" y1="287.6" x2="392.68" y2="273.35" stroke="#111" stroke-width="2.24" />
<line x1="420.35" y1="282.74" x2="395.67" y2="268.49" stroke="#111" stroke-width="2.24" />
<line x1="423.58" y1="278.08" x2="398.9" y2="263.83" stroke="#111" stroke-width="2.24" />
<line x1="427.04" y1="273.67" x2="402.35" y2="259.42" stroke="#111" stroke-width="2.24" />
<line x1="430.67" y1="269.53" x2="405.99" y2="255.28" stroke="#111" stroke-width="2.24" />
<line x1="434.46" y1="265.72" x2="409.78" y2="251.47" stroke="#111" stroke-width="2.24" />
<line x1="438.37" y1="262.27" x2="413.68" y2="248.02" stroke="#111" stroke-width="2.24" />
<line x1="442.35" y1="259.2" x2="417.67" y2="244.95" stroke="#111" stroke-width="2.24" />
<line x1="446.39" y1="256.55" x2="421.71" y2="242.3" stroke="#111" stroke-width="2.24" />
<line x1="450.44" y1="254.34" x2="425.75" y2="240.09" stroke="#111" stroke-width="2.24" />
<line x1="454.46" y1="252.58" x2="429.77" y2="238.33" stroke="#111" stroke-width="2.24" />
<line x1="458.41" y1="251.3" x2="433.73" y2="237.05" stroke="#111" stroke-width="2.24" />
<line x1="462.27" y1="250.51" x2="437.59" y2="236.26" stroke="#111" stroke-width="2.24" />
<line x1="465.99" y1="250.21" x2="441.31" y2="235.96" stroke="#111" stroke-width="2.24" />
<line x1="469.55" y1="250.4" x2="444.87" y2="236.15" stroke="#111" stroke-width="2.24" />
<line x1="472.91" y1="251.09" x2="448.22" y2="236.84" stroke="#111" stroke-width="2.24" />
<line x1="476.03" y1="252.27" x2="451.35" y2="238.02" stroke="#111" stroke-width="2.24" />
<line x1="478.9" y1="253.93" x2="454.22" y2="239.68" stroke="#111" stroke-width="2.24" />
<line x1="481.48" y1="256.04" x2="456.8" y2="241.79" stroke="#111" stroke-width="2.24" />
<line x1="483.76" y1="258.61" x2="459.08" y2="244.36" stroke="#111" stroke-width="2.24" />
<line x1="485.71" y1="261.59" x2="461.03" y2="247.34" stroke="#111" stroke-width="2.24" />
<line x1="487.31" y1="264.96" x2="462.63" y2="250.71" stroke="#111" stroke-width="2.24" />
<line x1="488.55" y1="268.7" x2="463.87" y2="254.45" stroke="#111" stroke-width="2.24" />
<line x1="489.42" y1="272.77" x2="464.74" y2="258.52" stroke="#111" stroke-width="2.24" />
<line x1="489.91" y1="277.12" x2="465.23" y2="262.87" stroke="#111" stroke-width="2.24" />
<line x1="490.01" y1="281.74" x2="465.33" y2="267.49" stroke="#111" stroke-width="2.24" />
<line x1="489.73" y1="286.56" x2="465.05" y2="272.31" stroke="#111" stroke-width="2.24" />
<line x1="489.07" y1="291.55" x2="464.39" y2="277.3" stroke="#111" stroke-width="2.24" />
<line x1="488.03" y1="296.66" x2="463.35" y2="282.41" stroke="#111" stroke-width="2.24" />
<line x1="486.63" y1="301.84" x2="461.95" y2="287.59" stroke="#111" stroke-width="2.24" />
<line x1="484.87" y1="307.06" x2="460.19" y2="292.81" stroke="#111" stroke-width="2.24" />
<line x1="482.77" y1="312.25" x2="458.09" y2="298" stroke="#111" stroke-width="2.24" />
<line x1="480.35" y1="317.38" x2="455.67" y2="303.13" stroke="#111" stroke-width="2.24" />
<ellipse cx="422.82" cy="290.75" rx="33.06" ry="57" transform="rotate(30 422.82 290.75)" fill="#fff" stroke="#111" stroke-width="1.12" />
</g>
<path d="M478.86 321.43 L476.91 321.34 L476.36 322.3 L477.41 323.94 L475.89 326.41 L474.04 326.06 L473.44 326.98 L474.3 328.84 L472.66 331.21 L470.94 330.58 L470.29 331.46 L470.96 333.52 L469.2 335.76 L467.62 334.87 L466.94 335.7 L467.4 337.94 L465.55 340.04 L464.13 338.9 L463.41 339.67 L463.66 342.06 L461.73 343.99 L460.48 342.61 L459.73 343.32 L459.77 345.84 L457.79 347.6 L456.71 345.99 L455.95 346.62 L455.78 349.26 L453.75 350.82 L452.86 348.99 L452.08 349.55 L451.71 352.28 L449.66 353.62 L448.96 351.6 L448.18 352.07 L447.6 354.86 L445.54 355.99 L445.05 353.78 L444.27 354.17 L443.49 357 L441.45 357.89 L441.16 355.52 L440.39 355.82 L439.42 358.66 L437.4 359.32 L437.33 356.81 L436.57 357.01 L435.41 359.84 L433.45 360.25 L433.59 357.62 L432.86 357.73 L431.52 360.53 L429.63 360.68 L429.98 357.96 L429.27 357.97 L427.78 360.71 L425.97 360.61 L426.52 357.82 L425.85 357.73 L424.21 360.38 L422.5 360.03 L423.26 357.2 L422.63 357.02 L420.85 359.55 L419.26 358.95 L420.21 356.11 L419.63 355.83 L417.74 358.23 L416.28 357.39 L417.41 354.55 L416.88 354.19 L414.89 356.43 L413.58 355.35 L414.89 352.55 L414.42 352.1 L412.34 354.16 L411.18 352.86 L412.66 350.11 L412.25 349.58 L410.11 351.45 L409.12 349.93 L410.74 347.27 L410.4 346.66 L408.22 348.31 L407.4 346.6 L409.16 344.05 L408.88 343.36 L406.68 344.79 L406.05 342.89 L407.92 340.47 L407.72 339.71 L405.51 340.9 L405.07 338.83 L407.05 336.57 L406.91 335.75 L404.72 336.69 L404.47 334.47 L406.54 332.38 L406.48 331.51 L404.32 332.19 L404.27 329.85 L406.4 327.94 L406.41 327.03 L404.31 327.45 L404.45 324.99 L406.63 323.3 L406.72 322.35 L404.69 322.5 L405.03 319.96 L407.23 318.49 L407.4 317.52 L405.46 317.39 L405.99 314.79 L408.2 313.56 L408.44 312.57 L406.61 312.17 L407.33 309.53 L409.52 308.56 L409.83 307.55 L408.13 306.89 L409.03 304.24 L411.19 303.52 L411.57 302.51 L410.01 301.59 L411.08 298.94 L413.19 298.49 L413.63 297.49 L412.23 296.32 L413.46 293.71 L415.5 293.52 L415.99 292.54 L414.76 291.12 L416.14 288.57 L418.09 288.66 L418.64 287.7 L417.59 286.06 L419.11 283.59 L420.96 283.94 L421.56 283.02 L420.7 281.16 L422.34 278.79 L424.06 279.42 L424.71 278.54 L424.04 276.48 L425.8 274.24 L427.38 275.13 L428.06 274.3 L427.6 272.06 L429.45 269.96 L430.87 271.1 L431.59 270.33 L431.34 267.94 L433.27 266.01 L434.52 267.39 L435.27 266.68 L435.23 264.16 L437.21 262.4 L438.29 264.01 L439.05 263.38 L439.22 260.74 L441.25 259.18 L442.14 261.01 L442.92 260.45 L443.29 257.72 L445.34 256.38 L446.04 258.4 L446.82 257.93 L447.4 255.14 L449.46 254.01 L449.95 256.22 L450.73 255.83 L451.51 253 L453.55 252.11 L453.84 254.48 L454.61 254.18 L455.58 251.34 L457.6 250.68 L457.67 253.19 L458.43 252.99 L459.59 250.16 L461.55 249.75 L461.41 252.38 L462.14 252.27 L463.48 249.47 L465.37 249.32 L465.02 252.04 L465.73 252.03 L467.22 249.29 L469.03 249.39 L468.48 252.18 L469.15 252.27 L470.79 249.62 L472.5 249.97 L471.74 252.8 L472.37 252.98 L474.15 250.45 L475.74 251.05 L474.79 253.89 L475.37 254.17 L477.26 251.77 L478.72 252.61 L477.59 255.45 L478.12 255.81 L480.11 253.57 L481.42 254.65 L480.11 257.45 L480.58 257.9 L482.66 255.84 L483.82 257.14 L482.34 259.89 L482.75 260.42 L484.89 258.55 L485.88 260.07 L484.26 262.73 L484.6 263.34 L486.78 261.69 L487.6 263.4 L485.84 265.95 L486.12 266.64 L488.32 265.21 L488.95 267.11 L487.08 269.53 L487.28 270.29 L489.49 269.1 L489.93 271.17 L487.95 273.43 L488.09 274.25 L490.28 273.31 L490.53 275.53 L488.46 277.62 L488.52 278.49 L490.68 277.81 L490.73 280.15 L488.6 282.06 L488.59 282.97 L490.69 282.55 L490.55 285.01 L488.37 286.7 L488.28 287.65 L490.31 287.5 L489.97 290.04 L487.77 291.51 L487.6 292.48 L489.54 292.61 L489.01 295.21 L486.8 296.44 L486.56 297.43 L488.39 297.83 L487.67 300.47 L485.48 301.44 L485.17 302.45 L486.87 303.11 L485.97 305.76 L483.81 306.48 L483.43 307.49 L484.99 308.41 L483.92 311.06 L481.81 311.51 L481.37 312.51 L482.77 313.68 L481.54 316.29 L479.5 316.48 L479.01 317.46 L480.24 318.88 Z" fill="none" stroke="#111" stroke-width="1.01" stroke-linejoin="round" stroke-linecap="round" />
<path d="M553 365.13 L554.16 366.99 L553.11 368.79 L550.93 368.72 L550.52 369.39 L551.48 371.46 L550.35 373.21 L548.27 372.86 L547.83 373.5 L548.59 375.78 L547.38 377.46 L545.43 376.83 L544.96 377.45 L545.51 379.91 L544.23 381.49 L542.42 380.6 L541.93 381.18 L542.27 383.81 L540.93 385.3 L539.27 384.14 L538.75 384.68 L538.88 387.46 L537.49 388.84 L536 387.43 L535.46 387.93 L535.38 390.83 L533.95 392.09 L532.63 390.43 L532.09 390.88 L531.79 393.89 L530.33 395.02 L529.2 393.13 L528.64 393.54 L528.13 396.62 L526.66 397.61 L525.72 395.51 L525.16 395.86 L524.44 399 L522.96 399.85 L522.23 397.55 L521.67 397.84 L520.74 401.01 L519.27 401.71 L518.74 399.23 L518.19 399.46 L517.07 402.64 L515.61 403.18 L515.3 400.53 L514.75 400.71 L513.44 403.87 L512.01 404.25 L511.92 401.46 L511.38 401.57 L509.9 404.7 L508.51 404.91 L508.62 402 L508.11 402.05 L506.45 405.11 L505.11 405.16 L505.44 402.15 L504.95 402.14 L503.14 405.11 L501.86 405 L502.4 401.9 L501.93 401.83 L499.98 404.7 L498.77 404.41 L499.52 401.27 L499.08 401.13 L497.01 403.87 L495.87 403.42 L496.82 400.25 L496.41 400.05 L494.23 402.63 L493.18 402.03 L494.33 398.85 L493.95 398.59 L491.68 401 L490.73 400.24 L492.06 397.08 L491.72 396.76 L489.37 398.99 L488.52 398.08 L490.03 394.96 L489.73 394.59 L487.32 396.6 L486.58 395.55 L488.26 392.5 L488 392.08 L485.55 393.87 L484.92 392.68 L486.75 389.72 L486.54 389.25 L484.07 390.81 L483.56 389.49 L485.53 386.64 L485.36 386.13 L482.89 387.44 L482.5 386.01 L484.59 383.29 L484.47 382.73 L482.02 383.79 L481.76 382.25 L483.95 379.69 L483.88 379.1 L481.46 379.88 L481.33 378.26 L483.62 375.87 L483.59 375.24 L481.23 375.76 L481.23 374.05 L483.58 371.86 L483.61 371.2 L481.32 371.44 L481.44 369.66 L483.86 367.68 L483.93 367 L481.73 366.96 L481.98 365.13 L484.43 363.37 L484.55 362.67 L482.46 362.36 L482.84 360.49 L485.3 358.97 L485.47 358.25 L483.5 357.67 L484 355.77 L486.47 354.5 L486.68 353.78 L484.85 352.92 L485.47 351.01 L487.91 350 L488.17 349.28 L486.49 348.15 L487.22 346.25 L489.63 345.5 L489.93 344.79 L488.41 343.41 L489.26 341.52 L491.61 341.05 L491.95 340.34 L490.6 338.72 L491.55 336.86 L493.83 336.66 L494.21 335.97 L493.05 334.11 L494.09 332.31 L496.28 332.38 L496.69 331.71 L495.72 329.64 L496.86 327.89 L498.93 328.24 L499.38 327.6 L498.61 325.32 L499.82 323.64 L501.78 324.27 L502.25 323.65 L501.69 321.19 L502.97 319.61 L504.78 320.5 L505.28 319.92 L504.94 317.29 L506.28 315.8 L507.94 316.96 L508.45 316.42 L508.32 313.64 L509.71 312.26 L511.21 313.67 L511.74 313.17 L511.83 310.27 L513.26 309.01 L514.57 310.67 L515.12 310.22 L515.42 307.21 L516.88 306.08 L518.01 307.97 L518.56 307.56 L519.08 304.48 L520.55 303.49 L521.49 305.59 L522.04 305.24 L522.77 302.1 L524.25 301.25 L524.98 303.55 L525.54 303.26 L526.46 300.09 L527.94 299.39 L528.46 301.87 L529.02 301.64 L530.14 298.46 L531.59 297.92 L531.91 300.57 L532.45 300.39 L533.76 297.23 L535.19 296.85 L535.29 299.64 L535.82 299.53 L537.31 296.4 L538.7 296.19 L538.58 299.1 L539.1 299.05 L540.75 295.99 L542.09 295.94 L541.76 298.95 L542.26 298.96 L544.07 295.99 L545.35 296.1 L544.8 299.2 L545.28 299.27 L547.22 296.4 L548.44 296.69 L547.68 299.83 L548.13 299.97 L550.2 297.23 L551.33 297.68 L550.38 300.85 L550.79 301.05 L552.97 298.47 L554.02 299.07 L552.87 302.25 L553.25 302.51 L555.53 300.1 L556.48 300.86 L555.14 304.02 L555.49 304.34 L557.83 302.11 L558.68 303.02 L557.17 306.14 L557.48 306.51 L559.88 304.5 L560.62 305.55 L558.95 308.6 L559.21 309.02 L561.65 307.23 L562.28 308.42 L560.45 311.38 L560.67 311.85 L563.14 310.29 L563.64 311.61 L561.68 314.46 L561.85 314.97 L564.32 313.66 L564.7 315.09 L562.61 317.81 L562.74 318.37 L565.19 317.31 L565.45 318.85 L563.25 321.41 L563.33 322 L565.74 321.22 L565.87 322.84 L563.59 325.23 L563.62 325.86 L565.98 325.34 L565.98 327.05 L563.62 329.24 L563.6 329.9 L565.89 329.66 L565.76 331.44 L563.35 333.42 L563.28 334.1 L565.48 334.14 L565.22 335.97 L562.78 337.73 L562.66 338.43 L564.75 338.74 L564.37 340.61 L561.9 342.13 L561.74 342.85 L563.71 343.43 L563.2 345.33 L560.74 346.6 L560.53 347.32 L562.36 348.18 L561.74 350.09 L559.29 351.1 L559.03 351.82 L560.72 352.95 L559.98 354.85 L557.57 355.6 L557.27 356.31 L558.79 357.69 L557.95 359.58 L555.6 360.05 L555.26 360.76 L556.6 362.38 L555.65 364.24 L553.38 364.44 Z" fill="#fff" stroke="#111" stroke-width="1.01" stroke-linejoin="round" stroke-linecap="round" />
<line x1="509.2" y1="404.82" x2="513.1" y2="407.07" stroke="#111" stroke-width="1.34" />
<line x1="505.78" y1="405.15" x2="509.68" y2="407.4" stroke="#111" stroke-width="1.34" />
<line x1="502.5" y1="405.06" x2="506.39" y2="407.31" stroke="#111" stroke-width="1.34" />
<line x1="499.37" y1="404.56" x2="503.27" y2="406.81" stroke="#111" stroke-width="1.34" />
<line x1="496.43" y1="403.65" x2="500.33" y2="405.9" stroke="#111" stroke-width="1.34" />
<line x1="493.7" y1="402.34" x2="497.6" y2="404.59" stroke="#111" stroke-width="1.34" />
<line x1="491.2" y1="400.63" x2="495.1" y2="402.88" stroke="#111" stroke-width="1.34" />
<line x1="488.94" y1="398.54" x2="492.84" y2="400.79" stroke="#111" stroke-width="1.34" />
<line x1="486.95" y1="396.09" x2="490.84" y2="398.34" stroke="#111" stroke-width="1.34" />
<line x1="485.23" y1="393.28" x2="489.13" y2="395.53" stroke="#111" stroke-width="1.34" />
<line x1="483.81" y1="390.16" x2="487.71" y2="392.41" stroke="#111" stroke-width="1.34" />
<line x1="482.69" y1="386.73" x2="486.59" y2="388.98" stroke="#111" stroke-width="1.34" />
<line x1="481.88" y1="383.03" x2="485.78" y2="385.28" stroke="#111" stroke-width="1.34" />
<line x1="481.39" y1="379.07" x2="485.29" y2="381.32" stroke="#111" stroke-width="1.34" />
<line x1="481.22" y1="374.91" x2="485.12" y2="377.16" stroke="#111" stroke-width="1.34" />
<line x1="481.37" y1="370.55" x2="485.27" y2="372.8" stroke="#111" stroke-width="1.34" />
<line x1="481.85" y1="366.05" x2="485.75" y2="368.3" stroke="#111" stroke-width="1.34" />
<line x1="482.64" y1="361.43" x2="486.54" y2="363.68" stroke="#111" stroke-width="1.34" />
<line x1="483.74" y1="356.72" x2="487.64" y2="358.97" stroke="#111" stroke-width="1.34" />
<line x1="485.15" y1="351.97" x2="489.05" y2="354.22" stroke="#111" stroke-width="1.34" />
<line x1="486.85" y1="347.2" x2="490.75" y2="349.45" stroke="#111" stroke-width="1.34" />
<line x1="488.83" y1="342.46" x2="492.73" y2="344.71" stroke="#111" stroke-width="1.34" />
<line x1="491.07" y1="337.79" x2="494.97" y2="340.04" stroke="#111" stroke-width="1.34" />
<line x1="493.57" y1="333.21" x2="497.46" y2="335.46" stroke="#111" stroke-width="1.34" />
<line x1="496.29" y1="328.76" x2="500.18" y2="331.01" stroke="#111" stroke-width="1.34" />
<line x1="499.21" y1="324.48" x2="503.11" y2="326.73" stroke="#111" stroke-width="1.34" />
<line x1="502.33" y1="320.4" x2="506.22" y2="322.65" stroke="#111" stroke-width="1.34" />
<line x1="505.6" y1="316.54" x2="509.5" y2="318.79" stroke="#111" stroke-width="1.34" />
<line x1="509.02" y1="312.95" x2="512.91" y2="315.2" stroke="#111" stroke-width="1.34" />
<line x1="512.54" y1="309.64" x2="516.44" y2="311.89" stroke="#111" stroke-width="1.34" />
<line x1="516.15" y1="306.64" x2="520.04" y2="308.89" stroke="#111" stroke-width="1.34" />
<line x1="519.81" y1="303.98" x2="523.71" y2="306.23" stroke="#111" stroke-width="1.34" />
<line x1="523.51" y1="301.67" x2="527.4" y2="303.92" stroke="#111" stroke-width="1.34" />
<line x1="527.2" y1="299.73" x2="531.1" y2="301.98" stroke="#111" stroke-width="1.34" />
<line x1="530.87" y1="298.18" x2="534.76" y2="300.43" stroke="#111" stroke-width="1.34" />
<line x1="534.48" y1="297.03" x2="538.38" y2="299.28" stroke="#111" stroke-width="1.34" />
<line x1="538.01" y1="296.28" x2="541.9" y2="298.53" stroke="#111" stroke-width="1.34" />
<line x1="541.43" y1="295.95" x2="545.32" y2="298.2" stroke="#111" stroke-width="1.34" />
<line x1="544.71" y1="296.04" x2="548.61" y2="298.29" stroke="#111" stroke-width="1.34" />
<line x1="547.83" y1="296.54" x2="551.73" y2="298.79" stroke="#111" stroke-width="1.34" />
<line x1="550.77" y1="297.45" x2="554.67" y2="299.7" stroke="#111" stroke-width="1.34" />
<line x1="553.5" y1="298.76" x2="557.4" y2="301.01" stroke="#111" stroke-width="1.34" />
<line x1="556.01" y1="300.47" x2="559.9" y2="302.72" stroke="#111" stroke-width="1.34" />
<path d="M556.9 367.38 L558.05 369.24 L557.01 371.04 L554.83 370.97 L554.41 371.64 L555.38 373.71 L554.25 375.46 L552.17 375.11 L551.73 375.75 L552.49 378.03 L551.28 379.71 L549.33 379.08 L548.86 379.7 L549.41 382.16 L548.13 383.74 L546.32 382.85 L545.82 383.43 L546.17 386.06 L544.83 387.55 L543.17 386.39 L542.65 386.93 L542.78 389.71 L541.39 391.09 L539.89 389.68 L539.36 390.18 L539.28 393.08 L537.85 394.34 L536.53 392.68 L535.98 393.13 L535.68 396.14 L534.23 397.27 L533.09 395.38 L532.54 395.79 L532.03 398.87 L530.55 399.86 L529.62 397.76 L529.06 398.11 L528.34 401.25 L526.86 402.1 L526.12 399.8 L525.57 400.09 L524.64 403.26 L523.17 403.96 L522.64 401.48 L522.09 401.71 L520.97 404.89 L519.51 405.43 L519.2 402.78 L518.65 402.96 L517.34 406.12 L515.91 406.5 L515.81 403.71 L515.28 403.82 L513.79 406.95 L512.4 407.16 L512.52 404.25 L512 404.3 L510.35 407.36 L509.01 407.41 L509.34 404.4 L508.84 404.39 L507.04 407.36 L505.75 407.25 L506.3 404.15 L505.83 404.08 L503.88 406.95 L502.67 406.66 L503.42 403.52 L502.97 403.38 L500.9 406.12 L499.77 405.67 L500.72 402.5 L500.31 402.3 L498.13 404.88 L497.08 404.28 L498.23 401.1 L497.85 400.84 L495.58 403.25 L494.62 402.49 L495.96 399.33 L495.62 399.01 L493.27 401.24 L492.42 400.33 L493.93 397.21 L493.63 396.84 L491.22 398.85 L490.48 397.8 L492.15 394.75 L491.89 394.33 L489.45 396.12 L488.82 394.93 L490.65 391.97 L490.43 391.5 L487.97 393.06 L487.46 391.74 L489.42 388.89 L489.25 388.38 L486.79 389.69 L486.4 388.26 L488.49 385.54 L488.37 384.98 L485.92 386.04 L485.65 384.5 L487.85 381.94 L487.78 381.35 L485.36 382.13 L485.23 380.51 L487.51 378.12 L487.49 377.49 L485.13 378.01 L485.12 376.3 L487.48 374.11 L487.5 373.45 L485.21 373.69 L485.34 371.91 L487.75 369.93 L487.82 369.25 L485.62 369.21 L485.88 367.38 L488.33 365.62 L488.45 364.92 L486.35 364.61 L486.73 362.74 L489.2 361.22 L489.37 360.5 L487.4 359.92 L487.9 358.02 L490.36 356.75 L490.58 356.03 L488.74 355.17 L489.36 353.26 L491.81 352.25 L492.07 351.53 L490.38 350.4 L491.12 348.5 L493.53 347.75 L493.83 347.04 L492.31 345.66 L493.16 343.77 L495.51 343.3 L495.85 342.59 L494.5 340.97 L495.45 339.11 L497.73 338.91 L498.1 338.22 L496.95 336.36 L497.99 334.56 L500.17 334.63 L500.59 333.96 L499.62 331.89 L500.75 330.14 L502.83 330.49 L503.27 329.85 L502.51 327.57 L503.72 325.89 L505.67 326.52 L506.14 325.9 L505.59 323.44 L506.87 321.86 L508.68 322.75 L509.18 322.17 L508.83 319.54 L510.17 318.05 L511.83 319.21 L512.35 318.67 L512.22 315.89 L513.61 314.51 L515.11 315.92 L515.64 315.42 L515.72 312.52 L517.15 311.26 L518.47 312.92 L519.02 312.47 L519.32 309.46 L520.77 308.33 L521.91 310.22 L522.46 309.81 L522.97 306.73 L524.45 305.74 L525.38 307.84 L525.94 307.49 L526.66 304.35 L528.14 303.5 L528.88 305.8 L529.43 305.51 L530.36 302.34 L531.83 301.64 L532.36 304.12 L532.91 303.89 L534.03 300.71 L535.49 300.17 L535.8 302.82 L536.35 302.64 L537.66 299.48 L539.09 299.1 L539.19 301.89 L539.72 301.78 L541.21 298.65 L542.6 298.44 L542.48 301.35 L543 301.3 L544.65 298.24 L545.99 298.19 L545.66 301.2 L546.16 301.21 L547.96 298.24 L549.25 298.35 L548.7 301.45 L549.17 301.52 L551.12 298.65 L552.33 298.94 L551.58 302.08 L552.03 302.22 L554.1 299.48 L555.23 299.93 L554.28 303.1 L554.69 303.3 L556.87 300.72 L557.92 301.32 L556.77 304.5 L557.15 304.76 L559.42 302.35 L560.38 303.11 L559.04 306.27 L559.38 306.59 L561.73 304.36 L562.58 305.27 L561.07 308.39 L561.37 308.76 L563.78 306.75 L564.52 307.8 L562.85 310.85 L563.11 311.27 L565.55 309.48 L566.18 310.67 L564.35 313.63 L564.57 314.1 L567.03 312.54 L567.54 313.86 L565.58 316.71 L565.75 317.22 L568.21 315.91 L568.6 317.34 L566.51 320.06 L566.63 320.62 L569.08 319.56 L569.35 321.1 L567.15 323.66 L567.22 324.25 L569.64 323.47 L569.77 325.09 L567.49 327.48 L567.51 328.11 L569.87 327.59 L569.88 329.3 L567.52 331.49 L567.5 332.15 L569.79 331.91 L569.66 333.69 L567.25 335.67 L567.18 336.35 L569.38 336.39 L569.12 338.22 L566.67 339.98 L566.55 340.68 L568.65 340.99 L568.27 342.86 L565.8 344.38 L565.63 345.1 L567.6 345.68 L567.1 347.58 L564.64 348.85 L564.42 349.57 L566.26 350.43 L565.64 352.34 L563.19 353.35 L562.93 354.07 L564.62 355.2 L563.88 357.1 L561.47 357.85 L561.17 358.56 L562.69 359.94 L561.84 361.83 L559.49 362.3 L559.15 363.01 L560.5 364.63 L559.55 366.49 L557.27 366.69 Z" fill="#fff" stroke="#111" stroke-width="1.4" stroke-linejoin="round" stroke-linecap="round" />
<ellipse cx="527.5" cy="352.8" rx="30.91" ry="53.3" transform="rotate(30 527.5 352.8)" fill="none" stroke="#111" stroke-width="2.13" />
<ellipse cx="525.9" cy="316.7" rx="3.94" ry="6.8" transform="rotate(30 525.9 316.7)" fill="none" stroke="#111" stroke-width="1.34" />
<path d="M528.58 311.47 L528.7 311.73 L528.8 312 L528.88 312.3 L528.94 312.61 L528.98 312.94 L528.99 313.29 L528.99 313.64 L528.96 314.01 L528.92 314.39 L528.85 314.77 L528.76 315.16 L528.65 315.56 L528.52 315.95 L528.37 316.35 L528.21 316.74 L528.02 317.13 L527.82 317.51 L527.6 317.88 L527.37 318.25 L527.13 318.6 L526.87 318.94 L526.6 319.27 L526.33 319.58 L526.04 319.87 L525.75 320.14 L525.45 320.39 L525.15 320.62 L524.84 320.83 L524.53 321.01 L524.23 321.17 L523.92 321.3 L523.62 321.41 L523.32 321.48 L523.03 321.54 L522.75 321.56" fill="none" stroke="#111" stroke-width="0.9" stroke-linejoin="round" stroke-linecap="round" />
<path d="M522.62 322.43 L522.42 322.24 L522.23 322.03 L522.07 321.8 L521.92 321.54 L521.8 321.25 L521.7 320.95 L521.62 320.62 L521.57 320.28 L521.53 319.92 L521.52 319.54 L521.54 319.15 L521.57 318.75 L521.63 318.34 L521.72 317.93 L521.82 317.51 L521.95 317.08 L522.1 316.66 L522.26 316.23 L522.45 315.81 L522.66 315.39 L522.88 314.99 L523.13 314.59 L523.38 314.2 L523.65 313.83 L523.94 313.47 L524.23 313.13 L524.54 312.8 L524.85 312.5 L525.17 312.22 L525.49 311.97 L525.82 311.73 L526.15 311.53 L526.48 311.35 L526.81 311.2 L527.14 311.07 L527.46 310.98 L527.77 310.91 L528.08 310.88 L528.38 310.87 L528.66 310.9 L528.94 310.95 L529.2 311.04" fill="none" stroke="#111" stroke-width="1.79" stroke-linejoin="round" stroke-linecap="round" />
<ellipse cx="552" cy="318.9" rx="3.94" ry="6.8" transform="rotate(30 552 318.9)" fill="none" stroke="#111" stroke-width="1.34" />
<path d="M554.68 313.67 L554.8 313.93 L554.9 314.2 L554.98 314.5 L555.04 314.81 L555.08 315.14 L555.09 315.49 L555.09 315.84 L555.06 316.21 L555.02 316.59 L554.95 316.97 L554.86 317.36 L554.75 317.76 L554.62 318.15 L554.47 318.55 L554.31 318.94 L554.12 319.33 L553.92 319.71 L553.7 320.08 L553.47 320.45 L553.23 320.8 L552.97 321.14 L552.7 321.47 L552.43 321.78 L552.14 322.07 L551.85 322.34 L551.55 322.59 L551.25 322.82 L550.94 323.03 L550.63 323.21 L550.33 323.37 L550.02 323.5 L549.72 323.61 L549.42 323.68 L549.13 323.74 L548.85 323.76" fill="none" stroke="#111" stroke-width="0.9" stroke-linejoin="round" stroke-linecap="round" />
<path d="M548.72 324.63 L548.52 324.44 L548.33 324.23 L548.17 324 L548.02 323.74 L547.9 323.45 L547.8 323.15 L547.72 322.82 L547.67 322.48 L547.63 322.12 L547.62 321.74 L547.64 321.35 L547.67 320.95 L547.73 320.54 L547.82 320.13 L547.92 319.71 L548.05 319.28 L548.2 318.86 L548.36 318.43 L548.55 318.01 L548.76 317.59 L548.98 317.19 L549.23 316.79 L549.48 316.4 L549.75 316.03 L550.04 315.67 L550.33 315.33 L550.64 315 L550.95 314.7 L551.27 314.42 L551.59 314.17 L551.92 313.93 L552.25 313.73 L552.58 313.55 L552.91 313.4 L553.24 313.27 L553.56 313.18 L553.87 313.11 L554.18 313.08 L554.48 313.07 L554.76 313.1 L555.04 313.15 L555.3 313.24" fill="none" stroke="#111" stroke-width="1.79" stroke-linejoin="round" stroke-linecap="round" />
<ellipse cx="553.4" cy="352.4" rx="3.94" ry="6.8" transform="rotate(30 553.4 352.4)" fill="none" stroke="#111" stroke-width="1.34" />
<path d="M556.08 347.17 L556.2 347.43 L556.3 347.7 L556.38 348 L556.44 348.31 L556.48 348.64 L556.49 348.99 L556.49 349.34 L556.46 349.71 L556.42 350.09 L556.35 350.47 L556.26 350.86 L556.15 351.26 L556.02 351.65 L555.87 352.05 L555.71 352.44 L555.52 352.83 L555.32 353.21 L555.1 353.58 L554.87 353.95 L554.63 354.3 L554.37 354.64 L554.1 354.97 L553.83 355.28 L553.54 355.57 L553.25 355.84 L552.95 356.09 L552.65 356.32 L552.34 356.53 L552.03 356.71 L551.73 356.87 L551.42 357 L551.12 357.11 L550.82 357.18 L550.53 357.24 L550.25 357.26" fill="none" stroke="#111" stroke-width="0.9" stroke-linejoin="round" stroke-linecap="round" />
<path d="M550.12 358.13 L549.92 357.94 L549.73 357.73 L549.57 357.5 L549.42 357.24 L549.3 356.95 L549.2 356.65 L549.12 356.32 L549.07 355.98 L549.03 355.62 L549.02 355.24 L549.04 354.85 L549.07 354.45 L549.13 354.04 L549.22 353.63 L549.32 353.21 L549.45 352.78 L549.6 352.36 L549.76 351.93 L549.95 351.51 L550.16 351.09 L550.38 350.69 L550.63 350.29 L550.88 349.9 L551.15 349.53 L551.44 349.17 L551.73 348.83 L552.04 348.5 L552.35 348.2 L552.67 347.92 L552.99 347.67 L553.32 347.43 L553.65 347.23 L553.98 347.05 L554.31 346.9 L554.64 346.77 L554.96 346.68 L555.27 346.61 L555.58 346.58 L555.88 346.57 L556.16 346.6 L556.44 346.65 L556.7 346.74" fill="none" stroke="#111" stroke-width="1.79" stroke-linejoin="round" stroke-linecap="round" />
<ellipse cx="527.3" cy="386.8" rx="3.94" ry="6.8" transform="rotate(30 527.3 386.8)" fill="none" stroke="#111" stroke-width="1.34" />
<path d="M529.98 381.57 L530.1 381.83 L530.2 382.1 L530.28 382.4 L530.34 382.71 L530.38 383.04 L530.39 383.39 L530.39 383.74 L530.36 384.11 L530.32 384.49 L530.25 384.87 L530.16 385.26 L530.05 385.66 L529.92 386.05 L529.77 386.45 L529.61 386.84 L529.42 387.23 L529.22 387.61 L529 387.98 L528.77 388.35 L528.53 388.7 L528.27 389.04 L528 389.37 L527.73 389.68 L527.44 389.97 L527.15 390.24 L526.85 390.49 L526.55 390.72 L526.24 390.93 L525.93 391.11 L525.63 391.27 L525.32 391.4 L525.02 391.51 L524.72 391.58 L524.43 391.64 L524.15 391.66" fill="none" stroke="#111" stroke-width="0.9" stroke-linejoin="round" stroke-linecap="round" />
<path d="M524.02 392.53 L523.82 392.34 L523.63 392.13 L523.47 391.9 L523.32 391.64 L523.2 391.35 L523.1 391.05 L523.02 390.72 L522.97 390.38 L522.93 390.02 L522.92 389.64 L522.94 389.25 L522.97 388.85 L523.03 388.44 L523.12 388.03 L523.22 387.61 L523.35 387.18 L523.5 386.76 L523.66 386.33 L523.85 385.91 L524.06 385.49 L524.28 385.09 L524.53 384.69 L524.78 384.3 L525.05 383.93 L525.34 383.57 L525.63 383.23 L525.94 382.9 L526.25 382.6 L526.57 382.32 L526.89 382.07 L527.22 381.83 L527.55 381.63 L527.88 381.45 L528.21 381.3 L528.54 381.17 L528.86 381.08 L529.17 381.01 L529.48 380.98 L529.78 380.97 L530.06 381 L530.34 381.05 L530.6 381.14" fill="none" stroke="#111" stroke-width="1.79" stroke-linejoin="round" stroke-linecap="round" />
<ellipse cx="500.7" cy="382.6" rx="3.94" ry="6.8" transform="rotate(30 500.7 382.6)" fill="none" stroke="#111" stroke-width="1.34" />
<path d="M503.38 377.37 L503.5 377.63 L503.6 377.9 L503.68 378.2 L503.74 378.51 L503.78 378.84 L503.79 379.19 L503.79 379.54 L503.76 379.91 L503.72 380.29 L503.65 380.67 L503.56 381.06 L503.45 381.46 L503.32 381.85 L503.17 382.25 L503.01 382.64 L502.82 383.03 L502.62 383.41 L502.4 383.78 L502.17 384.15 L501.93 384.5 L501.67 384.84 L501.4 385.17 L501.13 385.48 L500.84 385.77 L500.55 386.04 L500.25 386.29 L499.95 386.52 L499.64 386.73 L499.33 386.91 L499.03 387.07 L498.72 387.2 L498.42 387.31 L498.12 387.38 L497.83 387.44 L497.55 387.46" fill="none" stroke="#111" stroke-width="0.9" stroke-linejoin="round" stroke-linecap="round" />
<path d="M497.42 388.33 L497.22 388.14 L497.03 387.93 L496.87 387.7 L496.72 387.44 L496.6 387.15 L496.5 386.85 L496.42 386.52 L496.37 386.18 L496.33 385.82 L496.32 385.44 L496.34 385.05 L496.37 384.65 L496.43 384.24 L496.52 383.83 L496.62 383.41 L496.75 382.98 L496.9 382.56 L497.06 382.13 L497.25 381.71 L497.46 381.29 L497.68 380.89 L497.93 380.49 L498.18 380.1 L498.45 379.73 L498.74 379.37 L499.03 379.03 L499.34 378.7 L499.65 378.4 L499.97 378.12 L500.29 377.87 L500.62 377.63 L500.95 377.43 L501.28 377.25 L501.61 377.1 L501.94 376.97 L502.26 376.88 L502.57 376.81 L502.88 376.78 L503.18 376.77 L503.46 376.8 L503.74 376.85 L504 376.94" fill="none" stroke="#111" stroke-width="1.79" stroke-linejoin="round" stroke-linecap="round" />
<ellipse cx="499.8" cy="349.1" rx="3.94" ry="6.8" transform="rotate(30 499.8 349.1)" fill="none" stroke="#111" stroke-width="1.34" />
<path d="M502.48 343.87 L502.6 344.13 L502.7 344.4 L502.78 344.7 L502.84 345.01 L502.88 345.34 L502.89 345.69 L502.89 346.04 L502.86 346.41 L502.82 346.79 L502.75 347.17 L502.66 347.56 L502.55 347.96 L502.42 348.35 L502.27 348.75 L502.11 349.14 L501.92 349.53 L501.72 349.91 L501.5 350.28 L501.27 350.65 L501.03 351 L500.77 351.34 L500.5 351.67 L500.23 351.98 L499.94 352.27 L499.65 352.54 L499.35 352.79 L499.05 353.02 L498.74 353.23 L498.43 353.41 L498.13 353.57 L497.82 353.7 L497.52 353.81 L497.22 353.88 L496.93 353.94 L496.65 353.96" fill="none" stroke="#111" stroke-width="0.9" stroke-linejoin="round" stroke-linecap="round" />
<path d="M496.52 354.83 L496.32 354.64 L496.13 354.43 L495.97 354.2 L495.82 353.94 L495.7 353.65 L495.6 353.35 L495.52 353.02 L495.47 352.68 L495.43 352.32 L495.42 351.94 L495.44 351.55 L495.47 351.15 L495.53 350.74 L495.62 350.33 L495.72 349.91 L495.85 349.48 L496 349.06 L496.16 348.63 L496.35 348.21 L496.56 347.79 L496.78 347.39 L497.03 346.99 L497.28 346.6 L497.55 346.23 L497.84 345.87 L498.13 345.53 L498.44 345.2 L498.75 344.9 L499.07 344.62 L499.39 344.37 L499.72 344.13 L500.05 343.93 L500.38 343.75 L500.71 343.6 L501.04 343.47 L501.36 343.38 L501.67 343.31 L501.98 343.28 L502.28 343.27 L502.56 343.3 L502.84 343.35 L503.1 343.44" fill="none" stroke="#111" stroke-width="1.79" stroke-linejoin="round" stroke-linecap="round" />
<ellipse cx="526" cy="351.7" rx="18.27" ry="31.5" transform="rotate(30 526 351.7)" fill="none" stroke="#111" stroke-width="1.9" />
<ellipse cx="525.9" cy="331" rx="1.39" ry="2.4" transform="rotate(30 525.9 331)" fill="none" stroke="#111" stroke-width="1.34" />
<ellipse cx="534.2" cy="328.5" rx="1.39" ry="2.4" transform="rotate(30 534.2 328.5)" fill="none" stroke="#111" stroke-width="1.34" />
<ellipse cx="541.6" cy="333.7" rx="1.39" ry="2.4" transform="rotate(30 541.6 333.7)" fill="none" stroke="#111" stroke-width="1.34" />
<ellipse cx="543" cy="341.4" rx="1.39" ry="2.4" transform="rotate(30 543 341.4)" fill="none" stroke="#111" stroke-width="1.34" />
<ellipse cx="539.7" cy="352.4" rx="1.39" ry="2.4" transform="rotate(30 539.7 352.4)" fill="none" stroke="#111" stroke-width="1.34" />
<ellipse cx="534.2" cy="362.9" rx="1.39" ry="2.4" transform="rotate(30 534.2 362.9)" fill="none" stroke="#111" stroke-width="1.34" />
<ellipse cx="525.9" cy="370.3" rx="1.39" ry="2.4" transform="rotate(30 525.9 370.3)" fill="none" stroke="#111" stroke-width="1.34" />
<ellipse cx="516.9" cy="373" rx="1.39" ry="2.4" transform="rotate(30 516.9 373)" fill="none" stroke="#111" stroke-width="1.34" />
<ellipse cx="509.5" cy="368.4" rx="1.39" ry="2.4" transform="rotate(30 509.5 368.4)" fill="none" stroke="#111" stroke-width="1.34" />
<ellipse cx="508.1" cy="359.3" rx="1.39" ry="2.4" transform="rotate(30 508.1 359.3)" fill="none" stroke="#111" stroke-width="1.34" />
<ellipse cx="510.8" cy="349.7" rx="1.39" ry="2.4" transform="rotate(30 510.8 349.7)" fill="none" stroke="#111" stroke-width="1.34" />
<ellipse cx="516.9" cy="338.7" rx="1.39" ry="2.4" transform="rotate(30 516.9 338.7)" fill="none" stroke="#111" stroke-width="1.34" />
<ellipse cx="524.6" cy="351.5" rx="8.12" ry="14" transform="rotate(30 524.6 351.5)" fill="none" stroke="#111" stroke-width="1.46" />
<path d="M528.88 338.44 L529.3 338.82 L529.68 339.24 L530.01 339.72 L530.31 340.25 L530.56 340.83 L530.77 341.45 L530.93 342.11 L531.05 342.8 L531.11 343.54 L531.14 344.3 L531.11 345.09 L531.04 345.9 L530.92 346.73 L530.76 347.58 L530.55 348.44 L530.29 349.3 L529.99 350.16 L529.66 351.03 L529.28 351.89 L528.86 352.73 L528.41 353.57 L527.92 354.38 L527.4 355.17 L526.86 355.93 L526.28 356.67 L525.69 357.37 L525.07 358.03 L524.44 358.65 L523.79 359.23 L523.13 359.76 L522.47 360.24 L521.79 360.67 L521.12 361.04 L520.45 361.36 L519.79 361.62 L519.13 361.83 L518.49 361.97 L517.86 362.06 L517.25 362.08 L516.66 362.04 L516.1 361.94" fill="none" stroke="#111" stroke-width="1.12" stroke-linejoin="round" stroke-linecap="round" />
<path d="M577.03 485.85 L573.98 483.83 L571.16 481.44 L568.59 478.69 L566.28 475.6 L564.24 472.17 L562.49 468.43 L561.02 464.4 L559.86 460.09 L558.99 455.52 L558.44 450.72 L558.2 445.71 L558.26 440.51 L558.64 435.15 L559.33 429.66 L560.33 424.07 L561.62 418.39 L563.21 412.66 L565.09 406.9 L567.25 401.15 L569.67 395.43 L572.35 389.77 L575.28 384.2 L578.43 378.74 L581.79 373.43 L585.35 368.27 L589.1 363.32 L593 358.57 L597.04 354.07 L601.21 349.83 L605.48 345.86 L609.83 342.2 L614.24 338.86 L618.69 335.86 L623.15 333.2 L627.61 330.9 L632.05 328.98 L636.44 327.45 L640.75 326.3 L644.98 325.55 L649.1 325.2 L653.08 325.25 L656.92 325.71 L660.58 326.56 L664.06 327.81 L667.33 329.44 L670.45 331.24 L673.5 333.26 L676.32 335.65 L678.89 338.39 L681.2 341.49 L683.24 344.91 L685 348.65 L686.46 352.69 L687.63 357 L688.49 361.57 L689.04 366.37 L689.29 371.38 L689.22 376.58 L688.84 381.93 L688.15 387.42 L687.16 393.02 L685.86 398.7 L684.27 404.43 L682.39 410.18 L680.23 415.93 L677.81 421.65 L675.13 427.31 L672.21 432.89 L669.05 438.34 L665.69 443.66 L662.13 448.81 L658.39 453.77 L654.49 458.51 L650.44 463.02 L646.27 467.26 L642.01 471.22 L637.66 474.88 L633.24 478.22 L628.8 481.23 L624.33 483.89 L619.87 486.18 L615.43 488.1 L611.05 489.64 L606.73 490.79 L602.5 491.54 L598.39 491.89 L594.4 491.83 L590.57 491.38 L586.9 490.53 L583.42 489.28 L580.15 487.65 Z" fill="#fff" stroke="#111" stroke-width="1.29" stroke-linejoin="round" stroke-linecap="round" />
<ellipse cx="625.3" cy="409.44" rx="52.37" ry="90.3" transform="rotate(30 625.3 409.44)" fill="none" stroke="#111" stroke-width="1.29" />
<ellipse cx="646.2" cy="336.2" rx="3.36" ry="5.8" transform="rotate(30 646.2 336.2)" fill="none" stroke="#111" stroke-width="1.23" />
<ellipse cx="673.8" cy="345.8" rx="3.36" ry="5.8" transform="rotate(30 673.8 345.8)" fill="none" stroke="#111" stroke-width="1.23" />
<ellipse cx="611.4" cy="354.3" rx="3.36" ry="5.8" transform="rotate(30 611.4 354.3)" fill="none" stroke="#111" stroke-width="1.23" />
<ellipse cx="582.2" cy="393.2" rx="3.36" ry="5.8" transform="rotate(30 582.2 393.2)" fill="none" stroke="#111" stroke-width="1.23" />
<ellipse cx="569.5" cy="438.1" rx="3.36" ry="5.8" transform="rotate(30 569.5 438.1)" fill="none" stroke="#111" stroke-width="1.23" />
<ellipse cx="578.6" cy="472.1" rx="3.36" ry="5.8" transform="rotate(30 578.6 472.1)" fill="none" stroke="#111" stroke-width="1.23" />
<ellipse cx="606" cy="482.1" rx="3.36" ry="5.8" transform="rotate(30 606 482.1)" fill="none" stroke="#111" stroke-width="1.23" />
<ellipse cx="661.7" cy="337.2" rx="1.97" ry="3.4" transform="rotate(30 661.7 337.2)" fill="none" stroke="#111" stroke-width="1.46" />
<ellipse cx="591" cy="481" rx="1.97" ry="3.4" transform="rotate(30 591 481)" fill="none" stroke="#111" stroke-width="1.46" />
<path d="M661.5 350.67 L658.97 349.41 L656.29 348.45 L653.46 347.8 L650.5 347.46 L647.42 347.44 L644.24 347.72 L640.97 348.32 L637.64 349.23 L634.25 350.44 L630.82 351.95 L627.38 353.74 L623.94 355.82 L620.51 358.18 L617.11 360.79 L613.76 363.64 L610.48 366.73 L607.28 370.04 L604.17 373.55 L601.19 377.24 L598.32 381.09 L595.61 385.09 L593.04 389.22 L590.65 393.45 L588.44 397.77 L586.41 402.14 L584.59 406.57 L584.59 406.57 L584.36 407.24 L584.04 408.15 L583.66 409.22 L583.24 410.42 L582.8 411.68 L582.37 412.96 L581.97 414.2 L581.62 415.36 L581.31 416.45 L581.01 417.54 L580.73 418.64 L580.46 419.73 L580.2 420.81 L579.96 421.9 L579.73 422.98 L579.52 424.05 L579.32 425.13 L579.12 426.23 L578.93 427.34 L578.75 428.43 L578.6 429.51 L578.48 430.55 L578.4 431.55 L578.35 432.48 L578.35 433.34 L578.39 434.11 L578.46 434.83 L578.55 435.52 L578.68 436.2 L578.83 436.91 L579.01 437.67 L579.2 438.5 L579.42 439.41 L579.66 440.38 L579.93 441.4 L580.23 442.44 L580.54 443.49 L580.88 444.52 L581.23 445.53 L581.6 446.5 L581.98 447.43 L582.38 448.33 L582.8 449.22 L583.24 450.09 L583.69 450.96 L584.17 451.81 L584.67 452.66 L585.2 453.5 L585.74 454.33 L586.27 455.13 L586.83 455.93 L587.41 456.71 L588.02 457.5 L588.69 458.31 L589.41 459.14 L590.2 460 L591.06 460.89 L591.99 461.81 L592.97 462.74 L594.01 463.69 L595.08 464.66 L596.19 465.63 L597.33 466.61 L598.5 467.6 L599.7 468.6 L600.95 469.62 L602.23 470.66 L603.55 471.71 L604.89 472.75 L606.25 473.79 L607.62 474.8 L609 475.8 L610.4 476.79 L611.85 477.78 L613.33 478.76 L614.81 479.73 L616.29 480.68 L617.74 481.6 L619.15 482.47 L620.5 483.3 L621.85 484.1 L623.24 484.9 L624.63 485.68 L625.97 486.42 L627.22 487.1 L628.34 487.7 L629.28 488.21 L630 488.6 L637.25 492.76 L639.86 494.07 L642.62 495.1 L645.52 495.83 L648.55 496.26 L651.68 496.39 L654.91 496.21 L658.22 495.74 L661.58 494.96 L665 493.89 L668.44 492.53 L671.9 490.89 L675.35 488.97 L678.78 486.78 L682.17 484.34 L685.51 481.65 L688.78 478.73 L691.96 475.6 L695.04 472.26 L698 468.75 L700.83 465.06 L703.52 461.22 L706.04 457.25 L708.4 453.17 L710.57 449 L712.55 444.76 L714.33 440.46 L715.9 436.14 L717.25 431.8 L718.37 427.48 L719.26 423.19 L719.92 418.96 L720.34 414.8 L720.52 410.74 L720.45 406.79 L720.15 402.97 L719.61 399.31 L718.83 395.81 L717.81 392.51 L716.57 389.41 L715.11 386.53 L713.43 383.88 L711.55 381.47 L709.47 379.32 L707.2 377.45 L704.75 375.84 Z" fill="#fff" stroke="#111" stroke-width="1.29" stroke-linejoin="round" stroke-linecap="round" />
<path d="M665.47 353.01 L662.8 351.88 L659.99 351.07 L657.02 350.58 L653.93 350.41 L650.73 350.57 L647.43 351.06 L644.05 351.86 L640.61 352.99 L637.13 354.43 L633.62 356.17 L630.1 358.21 L626.6 360.53 L623.12 363.13 L619.7 365.99 L616.33 369.09 L613.05 372.42 L609.86 375.97 L606.8 379.7 L603.86 383.62 L601.07 387.68 L598.44 391.88 L595.99 396.19 L593.72 400.59 L591.65 405.06 L589.79 409.57 L589.79 409.57 L589.58 410.16 L589.29 410.95 L588.94 411.88 L588.56 412.93 L588.17 414.03 L587.78 415.15 L587.43 416.24 L587.14 417.26 L586.88 418.22 L586.62 419.19 L586.39 420.15 L586.17 421.11 L585.97 422.08 L585.81 423.05 L585.68 424.02 L585.6 425 L585.57 425.99 L585.58 426.98 L585.63 427.98 L585.72 428.98 L585.82 429.99 L585.94 430.99 L586.07 432 L586.2 433 L586.33 434 L586.47 435 L586.61 436 L586.77 437 L586.95 438 L587.15 439 L587.36 440 L587.6 441 L587.86 442 L588.13 442.99 L588.41 443.98 L588.72 444.97 L589.05 445.96 L589.4 446.96 L589.79 447.98 L590.2 449 L590.64 450.04 L591.12 451.1 L591.61 452.17 L592.14 453.25 L592.69 454.33 L593.27 455.4 L593.87 456.46 L594.5 457.5 L595.17 458.54 L595.89 459.59 L596.65 460.65 L597.42 461.69 L598.21 462.71 L599 463.69 L599.76 464.62 L600.5 465.5 L601.25 466.34 L602.04 467.18 L602.84 467.99 L603.62 468.75 L604.36 469.45 L605.02 470.07 L605.58 470.59 L606 471" fill="none" stroke="#111" stroke-width="1.12" stroke-linejoin="round" stroke-linecap="round" />
<ellipse cx="671" cy="434.3" rx="41.85" ry="67.5" transform="rotate(30 671 434.3)" fill="none" stroke="#111" stroke-width="1.29" />
<ellipse cx="672.2" cy="434.9" rx="40.73" ry="65.7" transform="rotate(30 672.2 434.9)" fill="none" stroke="#111" stroke-width="1.01" />
<ellipse cx="673.3" cy="435.4" rx="39.43" ry="63.6" transform="rotate(30 673.3 435.4)" fill="none" stroke="#111" stroke-width="1.34" />
<ellipse cx="674.2" cy="435.8" rx="38.32" ry="61.8" transform="rotate(30 674.2 435.8)" fill="none" stroke="#111" stroke-width="0.9" />
<ellipse cx="675.3" cy="435.7" rx="29.9" ry="57.5" transform="rotate(30 675.3 435.7)" fill="none" stroke="#111" stroke-width="1.23" />
<line x1="657.6" y1="481.5" x2="692.3" y2="394.2" stroke="#111" stroke-width="7.39" stroke-linecap="round"/>
<line x1="657.6" y1="481.5" x2="692.3" y2="394.2" stroke="#fff" stroke-width="5.49" stroke-linecap="round"/>
<line x1="658.2" y1="480.2" x2="691.6" y2="396.2" stroke="#111" stroke-width="4.03" stroke-linecap="round"/>
<line x1="658.2" y1="480.2" x2="691.6" y2="396.2" stroke="#fff" stroke-width="2.24" stroke-linecap="round"/>
<line x1="657.18" y1="479.8" x2="690.58" y2="395.8" stroke="#111" stroke-width="2.13" stroke-dasharray="10 5 4 4 16 6 12 5"/>
<ellipse cx="653.6" cy="487.8" rx="3.25" ry="5.6" transform="rotate(30 653.6 487.8)" fill="#fff" stroke="#111" stroke-width="1.23" />
<path d="M655.78 481.85 L656.09 481.71 L656.39 481.6 L656.7 481.52 L656.99 481.47 L657.28 481.45 L657.56 481.45 L657.82 481.48 L658.08 481.54 L658.32 481.63 L658.55 481.74 L658.76 481.88 L658.96 482.05 L659.14 482.24 L659.3 482.46 L659.44 482.7 L659.56 482.96 L659.67 483.24 L659.75 483.54 L659.81 483.86 L659.85 484.19 L659.86 484.54 L659.86 484.91 L659.83 485.28 L659.78 485.66 L659.72 486.05 L659.63 486.45 L659.51 486.85 L659.38 487.25 L659.23 487.65 L659.06 488.05 L658.88 488.45 L658.67 488.84 L658.45 489.22 L658.22 489.59 L657.97 489.95 L657.71 490.29 L657.44 490.62 L657.15 490.94 L656.86 491.23 L656.57 491.51 L656.26 491.77 L655.95 492 L655.64 492.21 L655.33 492.39 L655.02 492.55 L654.71 492.69 L654.41 492.8 L654.1 492.88 L653.81 492.93 L653.52 492.95" fill="none" stroke="#111" stroke-width="1.12" stroke-linejoin="round" stroke-linecap="round" />
<path d="M627 474.5 L632 476.5" fill="none" stroke="#111" stroke-width="2.24" stroke-linejoin="round" stroke-linecap="round" />
<ellipse cx="527.5" cy="236.8" rx="6.9" ry="11.9" transform="rotate(30 527.5 236.8)" fill="#fff" stroke="#111" stroke-width="2.02" />
<ellipse cx="527.5" cy="236.8" rx="5.97" ry="10.3" transform="rotate(30 527.5 236.8)" fill="none" stroke="#111" stroke-width="0.67" />
<path d="M541.27 259.44 L540.78 259.22 L540.33 258.94 L539.91 258.6 L539.53 258.21 L539.19 257.77 L538.88 257.29 L538.62 256.75 L538.4 256.17 L538.22 255.55 L538.09 254.89 L538 254.19 L537.96 253.47 L537.97 252.72 L538.02 251.94 L538.11 251.14 L538.25 250.33 L538.44 249.5 L538.67 248.67 L538.94 247.83 L539.25 247 L539.6 246.16 L539.99 245.34 L540.42 244.53 L540.88 243.74 L541.37 242.96 L541.88 242.21 L542.43 241.49 L543 240.8 L543.59 240.15 L544.19 239.54 L544.82 238.96 L545.45 238.43 L546.09 237.95 L546.74 237.52 L547.39 237.14 L548.04 236.81 L548.68 236.54 L549.32 236.33 L549.95 236.17 L550.56 236.07 L551.15 236.03 L551.73 236.05 L552.28 236.12 L552.81 236.26 L553.31 236.46 L553.78 236.71 L554.22 237.01 L561.35 239.34 L561.84 239.67 L562.29 240.05 L562.71 240.49 L563.08 240.99 L563.4 241.54 L563.69 242.14 L563.92 242.79 L564.11 243.48 L564.25 244.21 L564.34 244.98 L564.37 245.79 L564.36 246.62 L564.3 247.48 L564.19 248.36 L564.03 249.26 L563.82 250.17 L563.57 251.09 L563.27 252.02 L562.92 252.94 L562.53 253.86 L562.1 254.77 L561.63 255.66 L561.13 256.54 L560.59 257.39 L560.01 258.22 L559.41 259.02 L558.79 259.78 L558.14 260.5 L557.47 261.18 L556.78 261.82 L556.08 262.41 L555.38 262.94 L554.66 263.43 L553.94 263.85 L553.23 264.22 L552.52 264.53 L551.81 264.78 L551.12 264.96 L550.44 265.08 L549.78 265.14 L549.14 265.13 L548.52 265.06 L547.93 264.92 L547.38 264.72 L546.85 264.46 Z" fill="#161616" stroke="#111" stroke-width="1.34" stroke-linejoin="round" stroke-linecap="round" />
<line x1="540.47" y1="258.5" x2="541.55" y2="259.42" stroke="#fff" stroke-width="1.68" stroke-linecap="round"/>
<line x1="542.75" y1="260.45" x2="543.71" y2="261.27" stroke="#fff" stroke-width="1.68" stroke-linecap="round"/>
<line x1="539.37" y1="255.66" x2="540.43" y2="256.53" stroke="#fff" stroke-width="1.68" stroke-linecap="round"/>
<line x1="541.6" y1="257.49" x2="542.55" y2="258.26" stroke="#fff" stroke-width="1.68" stroke-linecap="round"/>
<line x1="539.36" y1="251.98" x2="540.42" y2="252.77" stroke="#fff" stroke-width="1.68" stroke-linecap="round"/>
<line x1="541.6" y1="253.65" x2="542.54" y2="254.35" stroke="#fff" stroke-width="1.68" stroke-linecap="round"/>
<line x1="540.45" y1="247.89" x2="541.53" y2="248.6" stroke="#fff" stroke-width="1.68" stroke-linecap="round"/>
<line x1="542.73" y1="249.38" x2="543.69" y2="250.01" stroke="#fff" stroke-width="1.68" stroke-linecap="round"/>
<line x1="542.49" y1="243.89" x2="543.62" y2="244.52" stroke="#fff" stroke-width="1.68" stroke-linecap="round"/>
<line x1="544.87" y1="245.21" x2="545.87" y2="245.76" stroke="#fff" stroke-width="1.68" stroke-linecap="round"/>
<line x1="545.26" y1="240.46" x2="546.44" y2="241.01" stroke="#fff" stroke-width="1.68" stroke-linecap="round"/>
<line x1="547.75" y1="241.63" x2="548.8" y2="242.11" stroke="#fff" stroke-width="1.68" stroke-linecap="round"/>
<line x1="548.4" y1="238.02" x2="549.64" y2="238.52" stroke="#fff" stroke-width="1.68" stroke-linecap="round"/>
<line x1="551.03" y1="239.07" x2="552.14" y2="239.52" stroke="#fff" stroke-width="1.68" stroke-linecap="round"/>
<line x1="551.54" y1="236.85" x2="552.86" y2="237.33" stroke="#fff" stroke-width="1.68" stroke-linecap="round"/>
<line x1="554.31" y1="237.85" x2="555.48" y2="238.28" stroke="#fff" stroke-width="1.68" stroke-linecap="round"/>
<line x1="554.31" y1="237.1" x2="555.68" y2="237.58" stroke="#fff" stroke-width="1.68" stroke-linecap="round"/>
<line x1="557.2" y1="238.12" x2="558.42" y2="238.54" stroke="#fff" stroke-width="1.68" stroke-linecap="round"/>
<ellipse cx="554.1" cy="251.9" rx="8.41" ry="14.5" transform="rotate(30 554.1 251.9)" fill="#161616" stroke="#111" stroke-width="1.46" />
<ellipse cx="554.1" cy="251.9" rx="7.37" ry="12.7" transform="rotate(30 554.1 251.9)" fill="none" stroke="#bbb" stroke-width="0.56" />
<ellipse cx="554.36" cy="252.05" rx="6.15" ry="10.6" transform="rotate(30 554.36 252.05)" fill="#fff" stroke="#111" stroke-width="1.34" />
<path d="M555.62 241.28 L555.93 241.55 L556.21 241.87 L556.46 242.22 L556.68 242.61 L556.86 243.04 L557.02 243.5 L557.14 243.99 L557.22 244.5 L557.27 245.05 L557.29 245.61 L557.27 246.2 L557.22 246.8 L557.13 247.41 L557.01 248.04 L556.85 248.68 L556.66 249.32 L556.44 249.96 L556.19 250.6 L555.91 251.23 L555.6 251.86 L555.27 252.48 L554.91 253.08 L554.52 253.66 L554.12 254.23 L553.7 254.77 L553.25 255.29 L552.8 255.78 L552.33 256.24 L551.85 256.67 L551.36 257.06 L550.87 257.42 L550.37 257.74 L549.87 258.01 L549.38 258.25 L548.88 258.45 L548.4 258.6 L547.92 258.7 L547.46 258.77 L547.01 258.78 L546.57 258.75 L546.15 258.68" fill="none" stroke="#111" stroke-width="1.12" stroke-linejoin="round" stroke-linecap="round" />
<path d="M595.46 273.9 L596.91 275.52 L595.68 277.65 L593.55 277.21 L592.72 278.44 L593.62 280.7 L592.13 282.6 L590.41 281.39 L589.45 282.44 L589.74 285.21 L588.08 286.77 L586.86 284.86 L585.83 285.67 L585.5 288.79 L583.76 289.92 L583.12 287.42 L582.07 287.95 L581.15 291.24 L579.43 291.86 L579.4 288.92 L578.39 289.13 L576.93 292.4 L575.33 292.49 L575.92 289.27 L575.02 289.16 L573.09 292.21 L571.71 291.76 L572.88 288.46 L572.13 288.03 L569.86 290.69 L568.78 289.72 L570.46 286.53 L569.91 285.8 L567.42 287.92 L566.7 286.49 L568.79 283.59 L568.48 282.61 L565.91 284.06 L565.59 282.26 L567.98 279.81 L567.91 278.64 L565.43 279.33 L565.53 277.26 L568.07 275.42 L568.26 274.12 L566 274.02 L566.51 271.8 L569.06 270.67 L569.49 269.31 L567.58 268.43 L568.48 266.19 L570.89 265.83 L571.54 264.5 L570.09 262.88 L571.32 260.75 L573.45 261.19 L574.28 259.96 L573.38 257.7 L574.87 255.8 L576.59 257.01 L577.55 255.96 L577.26 253.19 L578.92 251.63 L580.14 253.54 L581.17 252.73 L581.5 249.61 L583.24 248.48 L583.88 250.98 L584.93 250.45 L585.85 247.16 L587.57 246.54 L587.6 249.48 L588.61 249.27 L590.07 246 L591.67 245.91 L591.08 249.13 L591.98 249.24 L593.91 246.19 L595.29 246.64 L594.12 249.94 L594.87 250.37 L597.14 247.71 L598.22 248.68 L596.54 251.87 L597.09 252.6 L599.58 250.48 L600.3 251.91 L598.21 254.81 L598.52 255.79 L601.09 254.34 L601.41 256.14 L599.02 258.59 L599.09 259.76 L601.57 259.07 L601.47 261.14 L598.93 262.98 L598.74 264.28 L601 264.38 L600.49 266.6 L597.94 267.73 L597.51 269.09 L599.42 269.97 L598.52 272.21 L596.11 272.57 Z" fill="#fff" stroke="#111" stroke-width="1.12" stroke-linejoin="round" stroke-linecap="round" />
<path d="M572 289.12 L571.22 288.6 L570.5 288 L569.85 287.3 L569.26 286.51 L568.74 285.64 L568.3 284.68 L567.92 283.66 L567.63 282.56 L567.41 281.39 L567.26 280.17 L567.2 278.89 L567.22 277.57 L567.32 276.21 L567.49 274.81 L567.75 273.38 L568.08 271.94 L568.48 270.48 L568.96 269.01 L569.51 267.55 L570.13 266.09 L570.81 264.65 L571.55 263.23 L572.36 261.84 L573.21 260.48 L574.12 259.17 L575.07 257.91 L576.07 256.7 L577.1 255.55 L578.16 254.47 L579.25 253.46 L580.35 252.53 L581.48 251.68 L582.61 250.92 L583.75 250.24 L584.88 249.65 L586.01 249.16 L587.13 248.77 L588.23 248.48 L589.31 248.29 L590.36 248.2 L591.37 248.21 L592.35 248.33 L593.28 248.55 L594.17 248.86 L595 249.28 L609.5 257.68 L610.28 258.2 L611 258.8 L611.65 259.5 L612.24 260.29 L612.76 261.16 L613.2 262.12 L613.58 263.14 L613.87 264.24 L614.09 265.41 L614.24 266.63 L614.3 267.91 L614.28 269.23 L614.18 270.59 L614.01 271.99 L613.75 273.42 L613.42 274.86 L613.02 276.32 L612.54 277.79 L611.99 279.25 L611.37 280.71 L610.69 282.15 L609.95 283.57 L609.14 284.96 L608.29 286.32 L607.38 287.63 L606.43 288.89 L605.43 290.1 L604.4 291.25 L603.34 292.33 L602.25 293.34 L601.15 294.27 L600.02 295.12 L598.89 295.88 L597.75 296.56 L596.62 297.15 L595.49 297.64 L594.37 298.03 L593.27 298.32 L592.19 298.51 L591.14 298.6 L590.13 298.59 L589.15 298.47 L588.22 298.25 L587.33 297.94 L586.5 297.52 Z" fill="#fff" stroke="none" stroke-width="1.12" stroke-linejoin="round" stroke-linecap="round" />
<line x1="581.15" y1="291.24" x2="595.65" y2="299.64" stroke="#111" stroke-width="1.23" />
<line x1="579.43" y1="291.86" x2="593.93" y2="300.26" stroke="#111" stroke-width="1.23" />
<line x1="578.83" y1="289.31" x2="593.33" y2="297.71" stroke="#111" stroke-width="1.79" />
<line x1="576.93" y1="292.4" x2="591.43" y2="300.8" stroke="#111" stroke-width="1.23" />
<line x1="575.33" y1="292.49" x2="589.83" y2="300.89" stroke="#111" stroke-width="1.23" />
<line x1="575.35" y1="289.5" x2="589.85" y2="297.9" stroke="#111" stroke-width="1.79" />
<line x1="573.09" y1="292.21" x2="587.59" y2="300.61" stroke="#111" stroke-width="1.23" />
<line x1="571.71" y1="291.76" x2="586.21" y2="300.16" stroke="#111" stroke-width="1.23" />
<line x1="572.35" y1="288.51" x2="586.85" y2="296.91" stroke="#111" stroke-width="1.79" />
<line x1="569.86" y1="290.69" x2="584.36" y2="299.09" stroke="#111" stroke-width="1.23" />
<line x1="568.78" y1="289.72" x2="583.28" y2="298.12" stroke="#111" stroke-width="1.23" />
<line x1="569.99" y1="286.4" x2="584.49" y2="294.8" stroke="#111" stroke-width="1.79" />
<line x1="567.42" y1="287.92" x2="581.92" y2="296.32" stroke="#111" stroke-width="1.23" />
<line x1="566.7" y1="286.49" x2="581.2" y2="294.89" stroke="#111" stroke-width="1.23" />
<line x1="568.42" y1="283.29" x2="582.92" y2="291.69" stroke="#111" stroke-width="1.79" />
<line x1="565.91" y1="284.06" x2="580.41" y2="292.46" stroke="#111" stroke-width="1.23" />
<line x1="565.59" y1="282.26" x2="580.09" y2="290.66" stroke="#111" stroke-width="1.23" />
<line x1="567.73" y1="279.37" x2="582.23" y2="287.77" stroke="#111" stroke-width="1.79" />
<line x1="565.43" y1="279.33" x2="579.93" y2="287.73" stroke="#111" stroke-width="1.23" />
<line x1="565.53" y1="277.26" x2="580.03" y2="285.66" stroke="#111" stroke-width="1.23" />
<line x1="567.95" y1="274.85" x2="582.45" y2="283.25" stroke="#111" stroke-width="1.79" />
<line x1="566" y1="274.02" x2="580.5" y2="282.42" stroke="#111" stroke-width="1.23" />
<line x1="566.51" y1="271.8" x2="581.01" y2="280.2" stroke="#111" stroke-width="1.23" />
<line x1="569.07" y1="270" x2="583.57" y2="278.4" stroke="#111" stroke-width="1.79" />
<line x1="567.58" y1="268.43" x2="582.08" y2="276.83" stroke="#111" stroke-width="1.23" />
<line x1="568.48" y1="266.19" x2="582.98" y2="274.59" stroke="#111" stroke-width="1.23" />
<line x1="571.04" y1="265.11" x2="585.54" y2="273.51" stroke="#111" stroke-width="1.79" />
<line x1="570.09" y1="262.88" x2="584.59" y2="271.28" stroke="#111" stroke-width="1.23" />
<line x1="571.32" y1="260.75" x2="585.82" y2="269.15" stroke="#111" stroke-width="1.23" />
<line x1="573.72" y1="260.45" x2="588.22" y2="268.85" stroke="#111" stroke-width="1.79" />
<line x1="573.38" y1="257.7" x2="587.88" y2="266.1" stroke="#111" stroke-width="1.23" />
<line x1="574.87" y1="255.8" x2="589.37" y2="264.2" stroke="#111" stroke-width="1.23" />
<line x1="576.98" y1="256.3" x2="591.48" y2="264.7" stroke="#111" stroke-width="1.79" />
<line x1="577.26" y1="253.19" x2="591.76" y2="261.59" stroke="#111" stroke-width="1.23" />
<line x1="578.92" y1="251.63" x2="593.42" y2="260.03" stroke="#111" stroke-width="1.23" />
<line x1="580.62" y1="252.91" x2="595.12" y2="261.31" stroke="#111" stroke-width="1.79" />
<line x1="581.5" y1="249.61" x2="596" y2="258.01" stroke="#111" stroke-width="1.23" />
<line x1="583.24" y1="248.48" x2="597.74" y2="256.88" stroke="#111" stroke-width="1.23" />
<line x1="584.42" y1="250.46" x2="598.92" y2="258.86" stroke="#111" stroke-width="1.79" />
<line x1="585.85" y1="247.16" x2="600.35" y2="255.56" stroke="#111" stroke-width="1.23" />
<line x1="587.57" y1="246.54" x2="602.07" y2="254.94" stroke="#111" stroke-width="1.23" />
<line x1="588.17" y1="249.09" x2="602.67" y2="257.49" stroke="#111" stroke-width="1.79" />
<line x1="590.07" y1="246" x2="604.57" y2="254.4" stroke="#111" stroke-width="1.23" />
<line x1="591.67" y1="245.91" x2="606.17" y2="254.31" stroke="#111" stroke-width="1.23" />
<line x1="591.65" y1="248.9" x2="606.15" y2="257.3" stroke="#111" stroke-width="1.79" />
<line x1="593.91" y1="246.19" x2="608.41" y2="254.59" stroke="#111" stroke-width="1.23" />
<line x1="595.29" y1="246.64" x2="609.79" y2="255.04" stroke="#111" stroke-width="1.23" />
<line x1="594.65" y1="249.89" x2="609.15" y2="258.29" stroke="#111" stroke-width="1.79" />
<line x1="597.14" y1="247.71" x2="611.64" y2="256.11" stroke="#111" stroke-width="1.23" />
<line x1="598.22" y1="248.68" x2="612.72" y2="257.08" stroke="#111" stroke-width="1.23" />
<line x1="597.01" y1="252" x2="611.51" y2="260.4" stroke="#111" stroke-width="1.79" />
<line x1="599.58" y1="250.48" x2="614.08" y2="258.88" stroke="#111" stroke-width="1.23" />
<line x1="600.3" y1="251.91" x2="614.8" y2="260.31" stroke="#111" stroke-width="1.23" />
<line x1="598.58" y1="255.11" x2="613.08" y2="263.51" stroke="#111" stroke-width="1.79" />
<path d="M609.96 282.3 L611.41 283.92 L610.18 286.05 L608.05 285.61 L607.22 286.84 L608.12 289.1 L606.63 291 L604.91 289.79 L603.95 290.84 L604.24 293.61 L602.58 295.17 L601.36 293.26 L600.33 294.07 L600 297.19 L598.26 298.32 L597.62 295.82 L596.57 296.35 L595.65 299.64 L593.93 300.26 L593.9 297.32 L592.89 297.53 L591.43 300.8 L589.83 300.89 L590.42 297.67 L589.52 297.56 L587.59 300.61 L586.21 300.16 L587.38 296.86 L586.63 296.43 L584.36 299.09 L583.28 298.12 L584.96 294.93 L584.41 294.2 L581.92 296.32 L581.2 294.89 L583.29 291.99 L582.98 291.01 L580.41 292.46 L580.09 290.66 L582.48 288.21 L582.41 287.04 L579.93 287.73 L580.03 285.66 L582.57 283.82 L582.76 282.52 L580.5 282.42 L581.01 280.2 L583.56 279.07 L583.99 277.71 L582.08 276.83 L582.98 274.59 L585.39 274.23 L586.04 272.9 L584.59 271.28 L585.82 269.15 L587.95 269.59 L588.78 268.36 L587.88 266.1 L589.37 264.2 L591.09 265.41 L592.05 264.36 L591.76 261.59 L593.42 260.03 L594.64 261.94 L595.67 261.13 L596 258.01 L597.74 256.88 L598.38 259.38 L599.43 258.85 L600.35 255.56 L602.07 254.94 L602.1 257.88 L603.11 257.67 L604.57 254.4 L606.17 254.31 L605.58 257.53 L606.48 257.64 L608.41 254.59 L609.79 255.04 L608.62 258.34 L609.37 258.77 L611.64 256.11 L612.72 257.08 L611.04 260.27 L611.59 261 L614.08 258.88 L614.8 260.31 L612.71 263.21 L613.02 264.19 L615.59 262.74 L615.91 264.54 L613.52 266.99 L613.59 268.16 L616.07 267.47 L615.97 269.54 L613.43 271.38 L613.24 272.68 L615.5 272.78 L614.99 275 L612.44 276.13 L612.01 277.49 L613.92 278.37 L613.02 280.61 L610.61 280.97 Z" fill="#fff" stroke="#111" stroke-width="1.23" stroke-linejoin="round" stroke-linecap="round" />
<ellipse cx="598" cy="277.6" rx="10.9" ry="18.8" transform="rotate(30 598 277.6)" fill="none" stroke="#111" stroke-width="1.46" />
<path d="M602.56 259.53 L603.12 260.03 L603.62 260.61 L604.08 261.26 L604.47 261.97 L604.81 262.75 L605.09 263.59 L605.3 264.48 L605.45 265.43 L605.54 266.42 L605.56 267.46 L605.52 268.53 L605.41 269.63 L605.24 270.75 L605.01 271.9 L604.72 273.06 L604.36 274.22 L603.95 275.39 L603.48 276.56 L602.96 277.71 L602.38 278.85 L601.76 279.97 L601.09 281.06 L600.38 282.11 L599.63 283.13 L598.85 284.11 L598.04 285.04 L597.2 285.91 L596.34 286.73 L595.46 287.49 L594.57 288.18 L593.66 288.81 L592.76 289.36 L591.85 289.83 L590.95 290.23 L590.06 290.56 L589.18 290.8 L588.32 290.96 L587.48 291.03 L586.67 291.03 L585.89 290.94 L585.15 290.76" fill="none" stroke="#111" stroke-width="1.23" stroke-linejoin="round" stroke-linecap="round" />
<path d="M596.24 257.59 L596.59 258.34 L596.87 259.14 L597.1 260 L597.27 260.9 L597.37 261.86 L597.41 262.86 L597.39 263.89 L597.3 264.96 L597.16 266.05 L596.95 267.17 L596.67 268.29 L596.34 269.43 L595.96 270.57 L595.51 271.71 L595.01 272.84 L594.47 273.96 L593.87 275.05 L593.23 276.13 L592.54 277.17 L591.82 278.17 L591.06 279.13 L590.28 280.05 L589.46 280.92 L588.63 281.73 L587.77 282.48 L586.9 283.17 L586.02 283.8 L585.14 284.35 L584.25 284.83 L583.37 285.23 L582.5 285.56 L581.64 285.81 L580.79 285.98" fill="none" stroke="#111" stroke-width="1.01" stroke-linejoin="round" stroke-linecap="round" />
<path d="M619.27 305.24 L618.78 305.02 L618.33 304.74 L617.91 304.4 L617.53 304.01 L617.19 303.57 L616.88 303.09 L616.62 302.55 L616.4 301.97 L616.22 301.35 L616.09 300.69 L616 299.99 L615.96 299.27 L615.97 298.52 L616.02 297.74 L616.11 296.94 L616.25 296.13 L616.44 295.3 L616.67 294.47 L616.94 293.63 L617.25 292.8 L617.6 291.96 L617.99 291.14 L618.42 290.33 L618.88 289.54 L619.37 288.76 L619.88 288.01 L620.43 287.29 L621 286.6 L621.59 285.95 L622.19 285.34 L622.82 284.76 L623.45 284.23 L624.09 283.75 L624.74 283.32 L625.39 282.94 L626.04 282.61 L626.68 282.34 L627.32 282.13 L627.95 281.97 L628.56 281.87 L629.15 281.83 L629.73 281.85 L630.28 281.92 L630.81 282.06 L631.31 282.26 L631.78 282.51 L632.22 282.81 L639.35 285.14 L639.84 285.47 L640.29 285.85 L640.71 286.29 L641.08 286.79 L641.4 287.34 L641.69 287.94 L641.92 288.59 L642.11 289.28 L642.25 290.01 L642.34 290.78 L642.37 291.59 L642.36 292.42 L642.3 293.28 L642.19 294.16 L642.03 295.06 L641.82 295.97 L641.57 296.89 L641.27 297.82 L640.92 298.74 L640.53 299.66 L640.1 300.57 L639.63 301.46 L639.13 302.34 L638.59 303.19 L638.01 304.02 L637.41 304.82 L636.79 305.58 L636.14 306.3 L635.47 306.98 L634.78 307.62 L634.08 308.21 L633.38 308.74 L632.66 309.23 L631.94 309.65 L631.23 310.02 L630.52 310.33 L629.81 310.58 L629.12 310.76 L628.44 310.88 L627.78 310.94 L627.14 310.93 L626.52 310.86 L625.93 310.72 L625.38 310.52 L624.85 310.26 Z" fill="#161616" stroke="#111" stroke-width="1.34" stroke-linejoin="round" stroke-linecap="round" />
<line x1="618.47" y1="304.3" x2="619.55" y2="305.22" stroke="#fff" stroke-width="1.68" stroke-linecap="round"/>
<line x1="620.75" y1="306.25" x2="621.71" y2="307.07" stroke="#fff" stroke-width="1.68" stroke-linecap="round"/>
<line x1="617.37" y1="301.46" x2="618.43" y2="302.33" stroke="#fff" stroke-width="1.68" stroke-linecap="round"/>
<line x1="619.6" y1="303.29" x2="620.55" y2="304.06" stroke="#fff" stroke-width="1.68" stroke-linecap="round"/>
<line x1="617.36" y1="297.78" x2="618.42" y2="298.57" stroke="#fff" stroke-width="1.68" stroke-linecap="round"/>
<line x1="619.6" y1="299.45" x2="620.54" y2="300.15" stroke="#fff" stroke-width="1.68" stroke-linecap="round"/>
<line x1="618.45" y1="293.69" x2="619.53" y2="294.4" stroke="#fff" stroke-width="1.68" stroke-linecap="round"/>
<line x1="620.73" y1="295.18" x2="621.69" y2="295.81" stroke="#fff" stroke-width="1.68" stroke-linecap="round"/>
<line x1="620.49" y1="289.69" x2="621.62" y2="290.32" stroke="#fff" stroke-width="1.68" stroke-linecap="round"/>
<line x1="622.87" y1="291.01" x2="623.87" y2="291.56" stroke="#fff" stroke-width="1.68" stroke-linecap="round"/>
<line x1="623.26" y1="286.26" x2="624.44" y2="286.81" stroke="#fff" stroke-width="1.68" stroke-linecap="round"/>
<line x1="625.75" y1="287.43" x2="626.8" y2="287.91" stroke="#fff" stroke-width="1.68" stroke-linecap="round"/>
<line x1="626.4" y1="283.82" x2="627.64" y2="284.32" stroke="#fff" stroke-width="1.68" stroke-linecap="round"/>
<line x1="629.03" y1="284.87" x2="630.14" y2="285.32" stroke="#fff" stroke-width="1.68" stroke-linecap="round"/>
<line x1="629.54" y1="282.65" x2="630.86" y2="283.13" stroke="#fff" stroke-width="1.68" stroke-linecap="round"/>
<line x1="632.31" y1="283.65" x2="633.48" y2="284.08" stroke="#fff" stroke-width="1.68" stroke-linecap="round"/>
<line x1="632.31" y1="282.9" x2="633.68" y2="283.38" stroke="#fff" stroke-width="1.68" stroke-linecap="round"/>
<line x1="635.2" y1="283.92" x2="636.42" y2="284.34" stroke="#fff" stroke-width="1.68" stroke-linecap="round"/>
<ellipse cx="632.1" cy="297.7" rx="8.41" ry="14.5" transform="rotate(30 632.1 297.7)" fill="#161616" stroke="#111" stroke-width="1.46" />
<ellipse cx="632.1" cy="297.7" rx="7.37" ry="12.7" transform="rotate(30 632.1 297.7)" fill="none" stroke="#bbb" stroke-width="0.56" />
<ellipse cx="632.36" cy="297.85" rx="6.15" ry="10.6" transform="rotate(30 632.36 297.85)" fill="#fff" stroke="#111" stroke-width="1.34" />
<path d="M633.62 287.08 L633.93 287.35 L634.21 287.67 L634.46 288.02 L634.68 288.41 L634.86 288.84 L635.02 289.3 L635.14 289.79 L635.22 290.3 L635.27 290.85 L635.29 291.41 L635.27 292 L635.22 292.6 L635.13 293.21 L635.01 293.84 L634.85 294.48 L634.66 295.12 L634.44 295.76 L634.19 296.4 L633.91 297.03 L633.6 297.66 L633.27 298.28 L632.91 298.88 L632.52 299.46 L632.12 300.03 L631.7 300.57 L631.25 301.09 L630.8 301.58 L630.33 302.04 L629.85 302.47 L629.36 302.86 L628.87 303.22 L628.37 303.54 L627.87 303.81 L627.38 304.05 L626.88 304.25 L626.4 304.4 L625.92 304.5 L625.46 304.57 L625.01 304.58 L624.57 304.55 L624.15 304.48" fill="none" stroke="#111" stroke-width="1.12" stroke-linejoin="round" stroke-linecap="round" />
<path d="M36.68 202.3 L36.49 202.16 L36.31 202 L36.16 201.8 L36.02 201.58 L35.91 201.33 L35.82 201.05 L35.75 200.74 L35.7 200.41 L35.68 200.06 L35.68 199.69 L35.71 199.3 L35.75 198.89 L35.82 198.47 L35.91 198.03 L36.03 197.59 L36.16 197.13 L36.32 196.67 L36.5 196.2 L36.69 195.73 L36.9 195.27 L37.14 194.8 L37.38 194.34 L37.64 193.89 L37.92 193.44 L38.21 193.01 L38.51 192.59 L38.81 192.19 L39.13 191.8 L39.45 191.44 L39.78 191.09 L40.11 190.77 L40.44 190.47 L40.77 190.2 L41.1 189.96 L41.43 189.74 L41.75 189.55 L42.07 189.4 L42.37 189.27 L42.67 189.18 L42.96 189.12 L43.23 189.09 L43.49 189.1 L43.74 189.13 L43.97 189.2 L44.18 189.3 L45.92 190.3 L46.11 190.44 L46.29 190.6 L46.44 190.8 L46.58 191.02 L46.69 191.27 L46.78 191.55 L46.85 191.86 L46.9 192.19 L46.92 192.54 L46.92 192.91 L46.89 193.3 L46.85 193.71 L46.78 194.13 L46.69 194.57 L46.57 195.01 L46.44 195.47 L46.28 195.93 L46.1 196.4 L45.91 196.87 L45.7 197.33 L45.46 197.8 L45.22 198.26 L44.96 198.71 L44.68 199.16 L44.39 199.59 L44.09 200.01 L43.79 200.41 L43.47 200.8 L43.15 201.16 L42.82 201.51 L42.49 201.83 L42.16 202.13 L41.83 202.4 L41.5 202.64 L41.17 202.86 L40.85 203.05 L40.53 203.2 L40.23 203.33 L39.93 203.42 L39.64 203.48 L39.37 203.51 L39.11 203.5 L38.86 203.47 L38.63 203.4 L38.42 203.3 Z" fill="#fff" stroke="#111" stroke-width="1.23" stroke-linejoin="round" stroke-linecap="round" />
<ellipse cx="42.17" cy="196.8" rx="3.38" ry="7.5" transform="rotate(30 42.17 196.8)" fill="#fff" stroke="#111" stroke-width="1.12" />
<ellipse cx="42.43" cy="196.95" rx="2.79" ry="6.2" transform="rotate(30 42.43 196.95)" fill="#444" stroke="#111" stroke-width="0.9" />
<path d="M40.41 202.25 L40.26 202.15 L40.13 202.03 L40.01 201.88 L39.91 201.71 L39.83 201.53 L39.76 201.32 L39.71 201.09 L39.67 200.85 L39.66 200.58 L39.66 200.31 L39.68 200.01 L39.71 199.71 L39.76 199.39 L39.83 199.07 L39.92 198.73 L40.02 198.39 L40.13 198.05 L40.26 197.7 L40.41 197.35 L40.57 197 L40.74 196.65 L40.93 196.31 L41.12 195.97 L41.33 195.64 L41.54 195.32 L41.77 195 L41.99 194.7 L42.23 194.42 L42.47 194.14 L42.72 193.88 L42.96 193.64 L43.21 193.42 L43.46 193.22 L43.7 193.04 L43.95 192.87 L44.19 192.74 L44.42 192.62 L44.65 192.53 L44.88 192.46 L45.09 192.41 L45.3 192.39 L45.49 192.39 L45.67 192.42 L45.85 192.47 L46.01 192.55 L51.29 195.6 L51.43 195.7 L51.56 195.82 L51.68 195.97 L51.78 196.14 L51.87 196.32 L51.93 196.53 L51.98 196.76 L52.02 197 L52.04 197.27 L52.04 197.54 L52.02 197.84 L51.98 198.14 L51.93 198.46 L51.86 198.78 L51.78 199.12 L51.68 199.46 L51.56 199.8 L51.43 200.15 L51.28 200.5 L51.12 200.85 L50.95 201.2 L50.77 201.54 L50.57 201.88 L50.37 202.21 L50.15 202.53 L49.93 202.85 L49.7 203.15 L49.46 203.43 L49.22 203.71 L48.98 203.97 L48.73 204.21 L48.48 204.43 L48.24 204.63 L47.99 204.81 L47.75 204.98 L47.51 205.11 L47.27 205.23 L47.04 205.32 L46.82 205.39 L46.6 205.44 L46.4 205.46 L46.2 205.46 L46.02 205.43 L45.85 205.38 L45.69 205.3 Z" fill="#1c1c1c" stroke="#111" stroke-width="1.12" stroke-linejoin="round" stroke-linecap="round" />
<ellipse cx="49.61" cy="201.1" rx="2.38" ry="5.3" transform="rotate(30 49.61 201.1)" fill="#fff" stroke="#111" stroke-width="0.9" />
<path d="M48.28 206.22 L48.14 206.13 L48.02 206.01 L47.92 205.88 L47.83 205.73 L47.75 205.56 L47.69 205.37 L47.64 205.16 L47.61 204.94 L47.6 204.7 L47.6 204.45 L47.61 204.18 L47.64 203.9 L47.69 203.61 L47.75 203.32 L47.83 203.01 L47.92 202.7 L48.03 202.39 L48.15 202.07 L48.28 201.76 L48.43 201.44 L48.58 201.12 L48.75 200.81 L48.93 200.5 L49.12 200.2 L49.31 199.9 L49.51 199.62 L49.72 199.34 L49.94 199.08 L50.16 198.83 L50.38 198.6 L50.6 198.38 L50.83 198.18 L51.06 197.99 L51.28 197.83 L51.5 197.68 L51.72 197.55 L51.94 197.45 L52.14 197.36 L52.35 197.3 L52.54 197.26 L52.73 197.24 L52.91 197.24 L53.07 197.27 L53.23 197.31 L53.38 197.38 L69.15 205.28 L69.28 205.37 L69.4 205.49 L69.51 205.62 L69.6 205.77 L69.68 205.94 L69.74 206.13 L69.78 206.34 L69.82 206.56 L69.83 206.8 L69.83 207.05 L69.81 207.32 L69.78 207.6 L69.74 207.89 L69.67 208.18 L69.6 208.49 L69.5 208.8 L69.4 209.11 L69.28 209.43 L69.15 209.74 L69 210.06 L68.84 210.38 L68.68 210.69 L68.5 211 L68.31 211.3 L68.11 211.6 L67.91 211.88 L67.7 212.16 L67.49 212.42 L67.27 212.67 L67.05 212.9 L66.82 213.12 L66.6 213.32 L66.37 213.51 L66.15 213.67 L65.92 213.82 L65.71 213.95 L65.49 214.05 L65.28 214.14 L65.08 214.2 L64.88 214.24 L64.7 214.26 L64.52 214.26 L64.35 214.23 L64.19 214.19 L64.05 214.12 Z" fill="#3a3a3a" stroke="#111" stroke-width="1.12" stroke-linejoin="round" stroke-linecap="round" />
<path d="M54.24 197.88 L54.37 197.97 L54.49 198.09 L54.6 198.22 L54.69 198.37 L54.77 198.54 L54.83 198.73 L54.88 198.94 L54.91 199.16 L54.92 199.4 L54.92 199.65 L54.91 199.92 L54.88 200.2 L54.83 200.49 L54.77 200.78 L54.69 201.09 L54.6 201.4 L54.49 201.71 L54.37 202.03 L54.24 202.34 L54.09 202.66 L53.94 202.98 L53.77 203.29 L53.59 203.6 L53.4 203.9 L53.21 204.2 L53 204.48 L52.79 204.76 L52.58 205.02 L52.36 205.27 L52.14 205.5 L51.91 205.72 L51.69 205.92 L51.46 206.11 L51.24 206.27 L51.02 206.42 L50.8 206.55 L50.58 206.65 L50.37 206.74 L50.17 206.8 L49.98 206.84 L49.79 206.86 L49.61 206.86 L49.44 206.83 L49.29 206.79 L49.14 206.72" fill="none" stroke="#bbb" stroke-width="0.67" stroke-linejoin="round" stroke-linecap="round" />
<path d="M55.8 198.78 L55.93 198.87 L56.05 198.99 L56.16 199.12 L56.25 199.27 L56.33 199.44 L56.39 199.63 L56.44 199.84 L56.47 200.06 L56.48 200.3 L56.48 200.55 L56.47 200.82 L56.43 201.1 L56.39 201.39 L56.32 201.68 L56.25 201.99 L56.16 202.3 L56.05 202.61 L55.93 202.93 L55.8 203.24 L55.65 203.56 L55.49 203.88 L55.33 204.19 L55.15 204.5 L54.96 204.8 L54.77 205.1 L54.56 205.38 L54.35 205.66 L54.14 205.92 L53.92 206.17 L53.7 206.4 L53.47 206.62 L53.25 206.82 L53.02 207.01 L52.8 207.17 L52.58 207.32 L52.36 207.45 L52.14 207.55 L51.93 207.64 L51.73 207.7 L51.53 207.74 L51.35 207.76 L51.17 207.76 L51 207.73 L50.85 207.69 L50.7 207.62" fill="none" stroke="#bbb" stroke-width="0.67" stroke-linejoin="round" stroke-linecap="round" />
<path d="M57.36 199.68 L57.49 199.77 L57.61 199.89 L57.72 200.02 L57.81 200.17 L57.89 200.34 L57.95 200.53 L57.99 200.74 L58.03 200.96 L58.04 201.2 L58.04 201.45 L58.02 201.72 L57.99 202 L57.95 202.29 L57.88 202.58 L57.81 202.89 L57.71 203.2 L57.61 203.51 L57.49 203.83 L57.36 204.14 L57.21 204.46 L57.05 204.78 L56.89 205.09 L56.71 205.4 L56.52 205.7 L56.32 206 L56.12 206.28 L55.91 206.56 L55.7 206.82 L55.48 207.07 L55.26 207.3 L55.03 207.52 L54.81 207.72 L54.58 207.91 L54.36 208.07 L54.13 208.22 L53.92 208.35 L53.7 208.45 L53.49 208.54 L53.29 208.6 L53.09 208.64 L52.91 208.66 L52.73 208.66 L52.56 208.63 L52.4 208.59 L52.26 208.52" fill="none" stroke="#bbb" stroke-width="0.67" stroke-linejoin="round" stroke-linecap="round" />
<path d="M58.92 200.58 L59.05 200.67 L59.17 200.79 L59.28 200.92 L59.37 201.07 L59.44 201.24 L59.51 201.43 L59.55 201.64 L59.58 201.86 L59.6 202.1 L59.6 202.35 L59.58 202.62 L59.55 202.9 L59.5 203.19 L59.44 203.48 L59.37 203.79 L59.27 204.1 L59.17 204.41 L59.05 204.73 L58.91 205.04 L58.77 205.36 L58.61 205.68 L58.44 205.99 L58.27 206.3 L58.08 206.6 L57.88 206.9 L57.68 207.18 L57.47 207.46 L57.26 207.72 L57.04 207.97 L56.82 208.2 L56.59 208.42 L56.37 208.62 L56.14 208.81 L55.92 208.97 L55.69 209.12 L55.47 209.25 L55.26 209.35 L55.05 209.44 L54.85 209.5 L54.65 209.54 L54.47 209.56 L54.29 209.56 L54.12 209.53 L53.96 209.49 L53.82 209.42" fill="none" stroke="#bbb" stroke-width="0.67" stroke-linejoin="round" stroke-linecap="round" />
<path d="M60.48 201.48 L60.61 201.57 L60.73 201.69 L60.84 201.82 L60.93 201.97 L61 202.14 L61.07 202.33 L61.11 202.54 L61.14 202.76 L61.16 203 L61.16 203.25 L61.14 203.52 L61.11 203.8 L61.06 204.09 L61 204.38 L60.92 204.69 L60.83 205 L60.73 205.31 L60.61 205.63 L60.47 205.94 L60.33 206.26 L60.17 206.58 L60 206.89 L59.83 207.2 L59.64 207.5 L59.44 207.8 L59.24 208.08 L59.03 208.36 L58.82 208.62 L58.6 208.87 L58.37 209.1 L58.15 209.32 L57.92 209.52 L57.7 209.71 L57.47 209.87 L57.25 210.02 L57.03 210.15 L56.82 210.25 L56.61 210.34 L56.41 210.4 L56.21 210.44 L56.02 210.46 L55.85 210.46 L55.68 210.43 L55.52 210.39 L55.38 210.32" fill="none" stroke="#bbb" stroke-width="0.67" stroke-linejoin="round" stroke-linecap="round" />
<path d="M62.04 202.38 L62.17 202.47 L62.29 202.59 L62.39 202.72 L62.49 202.87 L62.56 203.04 L62.62 203.23 L62.67 203.44 L62.7 203.66 L62.72 203.9 L62.72 204.15 L62.7 204.42 L62.67 204.7 L62.62 204.99 L62.56 205.28 L62.48 205.59 L62.39 205.9 L62.28 206.21 L62.16 206.53 L62.03 206.84 L61.89 207.16 L61.73 207.48 L61.56 207.79 L61.38 208.1 L61.2 208.4 L61 208.7 L60.8 208.98 L60.59 209.26 L60.37 209.52 L60.16 209.77 L59.93 210 L59.71 210.22 L59.48 210.42 L59.26 210.61 L59.03 210.77 L58.81 210.92 L58.59 211.05 L58.38 211.15 L58.17 211.24 L57.97 211.3 L57.77 211.34 L57.58 211.36 L57.41 211.36 L57.24 211.33 L57.08 211.29 L56.94 211.22" fill="none" stroke="#bbb" stroke-width="0.67" stroke-linejoin="round" stroke-linecap="round" />
<path d="M63.6 203.28 L63.73 203.37 L63.85 203.49 L63.95 203.62 L64.04 203.77 L64.12 203.94 L64.18 204.13 L64.23 204.34 L64.26 204.56 L64.28 204.8 L64.28 205.05 L64.26 205.32 L64.23 205.6 L64.18 205.89 L64.12 206.18 L64.04 206.49 L63.95 206.8 L63.84 207.11 L63.72 207.43 L63.59 207.74 L63.45 208.06 L63.29 208.38 L63.12 208.69 L62.94 209 L62.76 209.3 L62.56 209.6 L62.36 209.88 L62.15 210.16 L61.93 210.42 L61.71 210.67 L61.49 210.9 L61.27 211.12 L61.04 211.32 L60.82 211.51 L60.59 211.67 L60.37 211.82 L60.15 211.95 L59.94 212.05 L59.73 212.14 L59.52 212.2 L59.33 212.24 L59.14 212.26 L58.96 212.26 L58.8 212.23 L58.64 212.19 L58.5 212.12" fill="none" stroke="#bbb" stroke-width="0.67" stroke-linejoin="round" stroke-linecap="round" />
<path d="M65.15 204.18 L65.29 204.27 L65.41 204.39 L65.51 204.52 L65.6 204.67 L65.68 204.84 L65.74 205.03 L65.79 205.24 L65.82 205.46 L65.84 205.7 L65.84 205.95 L65.82 206.22 L65.79 206.5 L65.74 206.79 L65.68 207.08 L65.6 207.39 L65.51 207.7 L65.4 208.01 L65.28 208.33 L65.15 208.64 L65 208.96 L64.85 209.28 L64.68 209.59 L64.5 209.9 L64.31 210.2 L64.12 210.5 L63.92 210.78 L63.71 211.06 L63.49 211.32 L63.27 211.57 L63.05 211.8 L62.83 212.02 L62.6 212.22 L62.37 212.41 L62.15 212.57 L61.93 212.72 L61.71 212.85 L61.49 212.95 L61.29 213.04 L61.08 213.1 L60.89 213.14 L60.7 213.16 L60.52 213.16 L60.36 213.13 L60.2 213.09 L60.05 213.02" fill="none" stroke="#bbb" stroke-width="0.67" stroke-linejoin="round" stroke-linecap="round" />
<path d="M66.71 205.08 L66.85 205.17 L66.96 205.29 L67.07 205.42 L67.16 205.57 L67.24 205.74 L67.3 205.93 L67.35 206.14 L67.38 206.36 L67.39 206.6 L67.39 206.85 L67.38 207.12 L67.35 207.4 L67.3 207.69 L67.24 207.98 L67.16 208.29 L67.07 208.6 L66.96 208.91 L66.84 209.23 L66.71 209.54 L66.56 209.86 L66.41 210.18 L66.24 210.49 L66.06 210.8 L65.87 211.1 L65.68 211.4 L65.47 211.68 L65.27 211.96 L65.05 212.22 L64.83 212.47 L64.61 212.7 L64.38 212.92 L64.16 213.12 L63.93 213.31 L63.71 213.47 L63.49 213.62 L63.27 213.75 L63.05 213.85 L62.84 213.94 L62.64 214 L62.45 214.04 L62.26 214.06 L62.08 214.06 L61.91 214.03 L61.76 213.99 L61.61 213.92" fill="none" stroke="#bbb" stroke-width="0.67" stroke-linejoin="round" stroke-linecap="round" />
<ellipse cx="66.6" cy="209.7" rx="2.12" ry="4.7" transform="rotate(30 66.6 209.7)" fill="#fff" stroke="#111" stroke-width="1.01" />
<path d="M69.3 210.8 L73.6 213.6 L101.2 198.2 L107.8 202.1" fill="none" stroke="#111" stroke-width="1.01" stroke-linejoin="round" stroke-linecap="round" />
<line x1="134.5" y1="217.3" x2="140.5" y2="220.6" stroke="#111" stroke-width="0.9" />
<path d="M484.3 434.98 L484.22 434.92 L484.14 434.86 L484.08 434.79 L484.01 434.71 L483.96 434.62 L483.91 434.52 L483.87 434.41 L483.84 434.29 L483.82 434.17 L483.81 434.04 L483.8 433.91 L483.8 433.77 L483.81 433.63 L483.83 433.49 L483.86 433.34 L483.89 433.19 L483.93 433.03 L483.98 432.88 L484.04 432.73 L484.1 432.58 L484.18 432.43 L484.25 432.28 L484.34 432.13 L484.43 431.99 L484.52 431.85 L484.62 431.72 L484.72 431.6 L484.83 431.48 L484.94 431.36 L485.06 431.26 L485.17 431.16 L485.29 431.07 L485.41 430.99 L485.53 430.92 L485.64 430.86 L485.76 430.81 L485.88 430.77 L485.99 430.74 L486.11 430.72 L486.22 430.71 L486.32 430.71 L486.42 430.72 L486.52 430.74 L486.61 430.78 L486.7 430.82 L499.1 438.02 L499.18 438.08 L499.26 438.14 L499.33 438.21 L499.39 438.29 L499.44 438.38 L499.49 438.48 L499.53 438.59 L499.56 438.71 L499.58 438.83 L499.6 438.96 L499.6 439.09 L499.6 439.23 L499.59 439.37 L499.57 439.51 L499.55 439.66 L499.51 439.81 L499.47 439.97 L499.42 440.12 L499.36 440.27 L499.3 440.42 L499.23 440.57 L499.15 440.72 L499.06 440.87 L498.98 441.01 L498.88 441.15 L498.78 441.28 L498.68 441.4 L498.57 441.52 L498.46 441.64 L498.35 441.74 L498.23 441.84 L498.11 441.93 L497.99 442.01 L497.88 442.08 L497.76 442.14 L497.64 442.19 L497.52 442.23 L497.41 442.26 L497.3 442.28 L497.19 442.29 L497.08 442.29 L496.98 442.28 L496.88 442.26 L496.79 442.22 L496.7 442.18 Z" fill="#333" stroke="#111" stroke-width="1.12" stroke-linejoin="round" stroke-linecap="round" />
<path d="M487.57 431.32 L487.65 431.38 L487.72 431.44 L487.79 431.51 L487.85 431.59 L487.91 431.68 L487.95 431.78 L487.99 431.89 L488.02 432.01 L488.05 432.13 L488.06 432.26 L488.07 432.39 L488.06 432.53 L488.05 432.67 L488.04 432.81 L488.01 432.96 L487.98 433.11 L487.93 433.27 L487.88 433.42 L487.83 433.57 L487.76 433.72 L487.69 433.87 L487.61 434.02 L487.53 434.17 L487.44 434.31 L487.34 434.45 L487.25 434.58 L487.14 434.7 L487.03 434.82 L486.92 434.94 L486.81 435.04 L486.69 435.14 L486.58 435.23 L486.46 435.31 L486.34 435.38 L486.22 435.44 L486.1 435.49 L485.99 435.53 L485.87 435.56 L485.76 435.58 L485.65 435.59 L485.54 435.59 L485.44 435.58 L485.35 435.56 L485.25 435.52 L485.17 435.48" fill="none" stroke="#ccc" stroke-width="0.56" stroke-linejoin="round" stroke-linecap="round" />
<path d="M489.3 432.32 L489.38 432.38 L489.45 432.44 L489.52 432.51 L489.58 432.59 L489.64 432.68 L489.68 432.78 L489.72 432.89 L489.75 433.01 L489.78 433.13 L489.79 433.26 L489.8 433.39 L489.8 433.53 L489.79 433.67 L489.77 433.81 L489.74 433.96 L489.71 434.11 L489.67 434.27 L489.62 434.42 L489.56 434.57 L489.49 434.72 L489.42 434.87 L489.34 435.02 L489.26 435.17 L489.17 435.31 L489.08 435.45 L488.98 435.58 L488.87 435.7 L488.77 435.82 L488.66 435.94 L488.54 436.04 L488.43 436.14 L488.31 436.23 L488.19 436.31 L488.07 436.38 L487.95 436.44 L487.84 436.49 L487.72 436.53 L487.6 436.56 L487.49 436.58 L487.38 436.59 L487.28 436.59 L487.17 436.58 L487.08 436.56 L486.99 436.52 L486.9 436.48" fill="none" stroke="#ccc" stroke-width="0.56" stroke-linejoin="round" stroke-linecap="round" />
<path d="M491.03 433.32 L491.11 433.38 L491.19 433.44 L491.25 433.51 L491.32 433.59 L491.37 433.68 L491.42 433.78 L491.46 433.89 L491.49 434.01 L491.51 434.13 L491.52 434.26 L491.53 434.39 L491.53 434.53 L491.52 434.67 L491.5 434.81 L491.47 434.96 L491.44 435.11 L491.4 435.27 L491.35 435.42 L491.29 435.57 L491.23 435.72 L491.15 435.87 L491.08 436.02 L490.99 436.17 L490.9 436.31 L490.81 436.45 L490.71 436.58 L490.61 436.7 L490.5 436.82 L490.39 436.94 L490.27 437.04 L490.16 437.14 L490.04 437.23 L489.92 437.31 L489.8 437.38 L489.69 437.44 L489.57 437.49 L489.45 437.53 L489.34 437.56 L489.22 437.58 L489.11 437.59 L489.01 437.59 L488.91 437.58 L488.81 437.56 L488.72 437.52 L488.63 437.48" fill="none" stroke="#ccc" stroke-width="0.56" stroke-linejoin="round" stroke-linecap="round" />
<path d="M492.76 434.32 L492.84 434.38 L492.92 434.44 L492.99 434.51 L493.05 434.59 L493.1 434.68 L493.15 434.78 L493.19 434.89 L493.22 435.01 L493.24 435.13 L493.26 435.26 L493.26 435.39 L493.26 435.53 L493.25 435.67 L493.23 435.81 L493.21 435.96 L493.17 436.11 L493.13 436.27 L493.08 436.42 L493.02 436.57 L492.96 436.72 L492.89 436.87 L492.81 437.02 L492.73 437.17 L492.64 437.31 L492.54 437.45 L492.44 437.58 L492.34 437.7 L492.23 437.82 L492.12 437.94 L492.01 438.04 L491.89 438.14 L491.77 438.23 L491.66 438.31 L491.54 438.38 L491.42 438.44 L491.3 438.49 L491.18 438.53 L491.07 438.56 L490.96 438.58 L490.85 438.59 L490.74 438.59 L490.64 438.58 L490.54 438.56 L490.45 438.52 L490.36 438.48" fill="none" stroke="#ccc" stroke-width="0.56" stroke-linejoin="round" stroke-linecap="round" />
<path d="M494.49 435.32 L494.58 435.38 L494.65 435.44 L494.72 435.51 L494.78 435.59 L494.83 435.68 L494.88 435.78 L494.92 435.89 L494.95 436.01 L494.97 436.13 L494.99 436.26 L494.99 436.39 L494.99 436.53 L494.98 436.67 L494.96 436.81 L494.94 436.96 L494.9 437.11 L494.86 437.27 L494.81 437.42 L494.75 437.57 L494.69 437.72 L494.62 437.87 L494.54 438.02 L494.46 438.17 L494.37 438.31 L494.27 438.45 L494.17 438.58 L494.07 438.7 L493.96 438.82 L493.85 438.94 L493.74 439.04 L493.62 439.14 L493.51 439.23 L493.39 439.31 L493.27 439.38 L493.15 439.44 L493.03 439.49 L492.92 439.53 L492.8 439.56 L492.69 439.58 L492.58 439.59 L492.47 439.59 L492.37 439.58 L492.27 439.56 L492.18 439.52 L492.09 439.48" fill="none" stroke="#ccc" stroke-width="0.56" stroke-linejoin="round" stroke-linecap="round" />
<path d="M496.23 436.32 L496.31 436.38 L496.38 436.44 L496.45 436.51 L496.51 436.59 L496.57 436.68 L496.61 436.78 L496.65 436.89 L496.68 437.01 L496.71 437.13 L496.72 437.26 L496.73 437.39 L496.73 437.53 L496.72 437.67 L496.7 437.81 L496.67 437.96 L496.64 438.11 L496.59 438.27 L496.54 438.42 L496.49 438.57 L496.42 438.72 L496.35 438.87 L496.27 439.02 L496.19 439.17 L496.1 439.31 L496.01 439.45 L495.91 439.58 L495.8 439.7 L495.69 439.82 L495.58 439.94 L495.47 440.04 L495.35 440.14 L495.24 440.23 L495.12 440.31 L495 440.38 L494.88 440.44 L494.76 440.49 L494.65 440.53 L494.53 440.56 L494.42 440.58 L494.31 440.59 L494.21 440.59 L494.1 440.58 L494.01 440.56 L493.91 440.52 L493.83 440.48" fill="none" stroke="#ccc" stroke-width="0.56" stroke-linejoin="round" stroke-linecap="round" />
<path d="M501.37 442.1 L497.47 444.85 L494 442.85 L494.44 438.1 L498.33 435.35 L501.8 437.35 Z" fill="#fff" stroke="#111" stroke-width="1.12" stroke-linejoin="round" stroke-linecap="round" />
<path d="M503.96 443.6 L500.07 446.35 L496.6 444.35 L497.04 439.6 L500.93 436.85 L504.4 438.85 Z" fill="#fff" stroke="#111" stroke-width="1.12" stroke-linejoin="round" stroke-linecap="round" />
<line x1="540.6" y1="387.4" x2="547.5" y2="392" stroke="#111" stroke-width="1.01" />
<line x1="547" y1="392" x2="480.5" y2="430.4" stroke="#111" stroke-width="1.01" stroke-dasharray="26 4 4 4"/>
<line x1="480.5" y1="430.4" x2="485" y2="433.2" stroke="#111" stroke-width="1.01" />
<path d="M565.4 506.91 L565.33 506.86 L565.26 506.8 L565.19 506.73 L565.14 506.66 L565.09 506.57 L565.05 506.48 L565.01 506.38 L564.98 506.28 L564.96 506.17 L564.95 506.05 L564.94 505.93 L564.94 505.8 L564.95 505.67 L564.97 505.54 L564.99 505.4 L565.02 505.26 L565.06 505.12 L565.11 504.98 L565.16 504.84 L565.22 504.7 L565.29 504.56 L565.36 504.43 L565.43 504.3 L565.52 504.17 L565.6 504.04 L565.69 503.92 L565.79 503.8 L565.89 503.69 L565.99 503.59 L566.09 503.49 L566.2 503.41 L566.31 503.32 L566.41 503.25 L566.52 503.19 L566.63 503.13 L566.74 503.08 L566.85 503.05 L566.95 503.02 L567.06 503 L567.16 502.99 L567.25 502.99 L567.35 503 L567.44 503.02 L567.52 503.05 L567.6 503.09 L577.6 508.89 L577.67 508.94 L577.74 509 L577.81 509.07 L577.86 509.14 L577.91 509.23 L577.95 509.32 L577.99 509.42 L578.02 509.52 L578.04 509.63 L578.05 509.75 L578.06 509.87 L578.06 510 L578.05 510.13 L578.03 510.26 L578.01 510.4 L577.98 510.54 L577.94 510.68 L577.89 510.82 L577.84 510.96 L577.78 511.1 L577.71 511.24 L577.64 511.37 L577.57 511.5 L577.48 511.63 L577.4 511.76 L577.31 511.88 L577.21 512 L577.11 512.11 L577.01 512.21 L576.91 512.31 L576.8 512.39 L576.69 512.48 L576.59 512.55 L576.48 512.61 L576.37 512.67 L576.26 512.72 L576.15 512.75 L576.05 512.78 L575.94 512.8 L575.84 512.81 L575.75 512.81 L575.65 512.8 L575.56 512.78 L575.48 512.75 L575.4 512.71 Z" fill="#333" stroke="#111" stroke-width="1.12" stroke-linejoin="round" stroke-linecap="round" />
<path d="M571.8 512.94 L571.66 512.84 L571.53 512.73 L571.41 512.6 L571.3 512.46 L571.21 512.3 L571.13 512.13 L571.06 511.94 L571 511.74 L570.96 511.53 L570.94 511.3 L570.93 511.07 L570.93 510.83 L570.95 510.58 L570.98 510.32 L571.02 510.06 L571.09 509.8 L571.16 509.53 L571.25 509.27 L571.35 509 L571.46 508.73 L571.58 508.47 L571.72 508.21 L571.87 507.96 L572.02 507.71 L572.19 507.47 L572.36 507.24 L572.54 507.02 L572.73 506.81 L572.93 506.61 L573.12 506.43 L573.33 506.26 L573.53 506.1 L573.74 505.96 L573.95 505.84 L574.15 505.73 L574.36 505.64 L574.56 505.57 L574.77 505.52 L574.96 505.48 L575.15 505.47 L575.34 505.47 L575.52 505.49 L575.69 505.53 L575.85 505.59 L576 505.66 L578.6 507.16 L578.74 507.26 L578.87 507.37 L578.99 507.5 L579.1 507.64 L579.19 507.8 L579.28 507.97 L579.34 508.16 L579.4 508.36 L579.44 508.57 L579.46 508.8 L579.48 509.03 L579.47 509.27 L579.46 509.52 L579.42 509.78 L579.38 510.04 L579.32 510.3 L579.24 510.57 L579.16 510.83 L579.06 511.1 L578.94 511.37 L578.82 511.63 L578.68 511.89 L578.54 512.14 L578.38 512.39 L578.21 512.63 L578.04 512.86 L577.86 513.08 L577.67 513.29 L577.48 513.49 L577.28 513.67 L577.07 513.84 L576.87 514 L576.66 514.14 L576.45 514.26 L576.25 514.37 L576.04 514.46 L575.84 514.53 L575.64 514.58 L575.44 514.62 L575.25 514.63 L575.06 514.63 L574.88 514.61 L574.71 514.57 L574.55 514.51 L574.4 514.44 Z" fill="#fff" stroke="#111" stroke-width="1.12" stroke-linejoin="round" stroke-linecap="round" />
<ellipse cx="576.5" cy="510.8" rx="2.44" ry="4.2" transform="rotate(30 576.5 510.8)" fill="#fff" stroke="#111" stroke-width="1.12" />
<ellipse cx="576.5" cy="510.8" rx="1.04" ry="1.8" transform="rotate(30 576.5 510.8)" fill="#555" stroke="#111" stroke-width="0.9" />
<line x1="595.2" y1="483.3" x2="561.9" y2="502.9" stroke="#111" stroke-width="1.01" stroke-dasharray="12 3 3 3"/>
<line x1="561.9" y1="502.9" x2="566.5" y2="505.6" stroke="#111" stroke-width="1.01" />
<ellipse cx="677.4" cy="500" rx="5.22" ry="9" transform="rotate(30 677.4 500)" fill="#fff" stroke="#111" stroke-width="2.02" />
<ellipse cx="677.4" cy="500" rx="4.18" ry="7.2" transform="rotate(30 677.4 500)" fill="none" stroke="#111" stroke-width="0.67" />
<path d="M688.26 515.93 L688.04 515.78 L687.83 515.61 L687.65 515.41 L687.48 515.19 L687.34 514.94 L687.21 514.68 L687.1 514.39 L687.02 514.07 L686.96 513.75 L686.92 513.4 L686.9 513.04 L686.9 512.67 L686.93 512.28 L686.98 511.89 L687.05 511.48 L687.15 511.07 L687.26 510.66 L687.4 510.25 L687.55 509.83 L687.73 509.42 L687.92 509.01 L688.13 508.61 L688.36 508.22 L688.6 507.84 L688.85 507.47 L689.12 507.11 L689.4 506.77 L689.7 506.44 L690 506.14 L690.3 505.85 L690.62 505.59 L690.93 505.35 L691.25 505.13 L691.58 504.94 L691.9 504.78 L692.22 504.64 L692.53 504.53 L692.84 504.44 L693.15 504.39 L693.44 504.37 L693.73 504.37 L694.01 504.4 L694.27 504.46 L694.52 504.55 L694.76 504.67 L700.82 508.17 L701.04 508.32 L701.24 508.49 L701.43 508.69 L701.59 508.91 L701.74 509.16 L701.86 509.42 L701.97 509.71 L702.05 510.03 L702.12 510.35 L702.16 510.7 L702.17 511.06 L702.17 511.43 L702.14 511.82 L702.09 512.21 L702.02 512.62 L701.93 513.03 L701.81 513.44 L701.68 513.85 L701.52 514.27 L701.35 514.68 L701.15 515.09 L700.94 515.49 L700.72 515.88 L700.48 516.26 L700.22 516.63 L699.95 516.99 L699.67 517.33 L699.38 517.66 L699.08 517.96 L698.77 518.25 L698.46 518.51 L698.14 518.75 L697.82 518.97 L697.5 519.16 L697.18 519.32 L696.86 519.46 L696.54 519.57 L696.23 519.66 L695.93 519.71 L695.63 519.73 L695.34 519.73 L695.07 519.7 L694.8 519.64 L694.55 519.55 L694.32 519.43 Z" fill="#444" stroke="#111" stroke-width="1.12" stroke-linejoin="round" stroke-linecap="round" />
<path d="M692.13 522.21 L691.8 521.99 L691.48 521.72 L691.2 521.42 L690.94 521.08 L690.72 520.7 L690.52 520.28 L690.36 519.84 L690.23 519.36 L690.14 518.85 L690.08 518.32 L690.05 517.77 L690.06 517.19 L690.1 516.6 L690.17 515.99 L690.28 515.37 L690.43 514.74 L690.6 514.11 L690.81 513.47 L691.05 512.83 L691.32 512.2 L691.62 511.57 L691.94 510.95 L692.29 510.35 L692.66 509.76 L693.06 509.19 L693.47 508.64 L693.9 508.12 L694.35 507.62 L694.81 507.15 L695.28 506.71 L695.77 506.3 L696.26 505.93 L696.75 505.6 L697.24 505.31 L697.74 505.05 L698.23 504.84 L698.71 504.67 L699.19 504.54 L699.66 504.46 L700.12 504.42 L700.56 504.43 L700.98 504.48 L701.39 504.57 L701.77 504.71 L702.13 504.89 L704.3 506.14 L704.64 506.36 L704.95 506.63 L705.24 506.93 L705.49 507.27 L705.72 507.65 L705.91 508.07 L706.07 508.51 L706.2 508.99 L706.3 509.5 L706.36 510.03 L706.39 510.58 L706.38 511.16 L706.34 511.75 L706.26 512.36 L706.15 512.98 L706.01 513.61 L705.83 514.24 L705.62 514.88 L705.38 515.52 L705.11 516.15 L704.82 516.78 L704.49 517.4 L704.15 518 L703.77 518.59 L703.38 519.16 L702.96 519.71 L702.53 520.23 L702.08 520.73 L701.62 521.2 L701.15 521.64 L700.67 522.05 L700.18 522.42 L699.69 522.75 L699.19 523.04 L698.7 523.3 L698.21 523.51 L697.72 523.68 L697.24 523.81 L696.78 523.89 L696.32 523.93 L695.88 523.92 L695.45 523.87 L695.05 523.78 L694.66 523.64 L694.3 523.46 Z" fill="#fff" stroke="#111" stroke-width="1.23" stroke-linejoin="round" stroke-linecap="round" />
<ellipse cx="699.3" cy="514.8" rx="5.8" ry="10" transform="rotate(30 699.3 514.8)" fill="#fff" stroke="#111" stroke-width="1.23" />
<ellipse cx="699.73" cy="515.05" rx="0.7" ry="1.2" transform="rotate(30 699.73 515.05)" fill="#333" stroke="#111" stroke-width="1.12" />
<line x1="660" y1="492.8" x2="668" y2="497.3" stroke="#111" stroke-width="1.01" />
<line x1="683" y1="505.8" x2="689" y2="509.3" stroke="#111" stroke-width="1.01" />
<line x1="632" y1="297.6" x2="646.4" y2="305.9" stroke="#111" stroke-width="1.01" />
<line x1="646.4" y1="305.9" x2="580.2" y2="344.2" stroke="#111" stroke-width="1.01" stroke-dasharray="14 4 3.5 4 60"/>
<line x1="580.2" y1="344.2" x2="595.3" y2="353.3" stroke="#111" stroke-width="1.01" />
<line x1="26.4" y1="62.8" x2="64.9" y2="84.9" stroke="#111" stroke-width="1.01" stroke-dasharray="21 3 3.5 3 14"/>
<line x1="83.5" y1="95.6" x2="122" y2="117.9" stroke="#111" stroke-width="1.01" stroke-dasharray="15.5 3.5 5 3.5 17"/>
<line x1="175.9" y1="149.3" x2="274" y2="206.1" stroke="#111" stroke-width="1.01" stroke-dasharray="60 5 5 6 36 6"/>
<line x1="293.3" y1="217.3" x2="389.8" y2="273.1" stroke="#111" stroke-width="1.01" stroke-dasharray="36 8 4.5 7.5 60"/>
<line x1="425" y1="293.5" x2="487" y2="329.4" stroke="#111" stroke-width="1.01" stroke-dasharray="26 4 5 4 34"/>
<line x1="525" y1="351.4" x2="576.2" y2="381" stroke="#111" stroke-width="1.01" stroke-dasharray="18 8 5 4 30"/>
<line x1="527.5" y1="236.8" x2="541" y2="244.61" stroke="#111" stroke-width="1.01" />
<line x1="554" y1="252.14" x2="572" y2="262.56" stroke="#111" stroke-width="1.01" />
<line x1="597" y1="277.03" x2="619" y2="289.76" stroke="#111" stroke-width="1.01" />
<g transform="translate(718 22) scale(0.13736)" fill="none" stroke="#111" stroke-width="8.5" stroke-linejoin="round" stroke-linecap="round">
<path d="M155 78 L182 64 L410 60 L416 80 L396 92 L166 96 Z" fill="#fff" stroke-width="9"/>
<path d="M166 96 L158 80" fill="none" stroke-width="7"/>
<path d="M172 96 L150 205 L205 235 L285 212 L430 218 L404 90" fill="#fff" stroke-width="8"/>
<path d="M188 102 L172 196 L262 214 L272 100" fill="none" stroke-width="7"/>
<path d="M276 98 L282 208" fill="none" stroke-width="12"/>
<path d="M348 96 L358 212" fill="none" stroke-width="12"/>
<path d="M290 100 L292 200 L350 205 L344 98" fill="none" stroke-width="5"/>
<path d="M365 98 L372 208 L424 214 L404 95" fill="none" stroke-width="6"/>
<path d="M430 182 L500 176 L516 192 L520 240 L490 262 L440 262 Z" fill="#fff" stroke-width="8"/>
<path d="M432 196 L512 190" fill="none" stroke-width="7"/>
<path d="M440 240 L520 228" fill="none" stroke-width="7"/>
<path d="M440 262 L450 340 L505 350 L520 250" fill="#fff" stroke-width="7"/>
<path d="M455 290 L500 300 M452 315 L500 325" fill="none" stroke-width="6"/>
<ellipse cx="562" cy="318" rx="55" ry="78" fill="#fff" transform="rotate(8 562 318)"/>
<path d="M520 262 C495 290 490 350 515 385" stroke-width="7"/>
<ellipse cx="572" cy="325" rx="27" ry="42" transform="rotate(8 572 325)" stroke-width="7"/>
<ellipse cx="574" cy="326" rx="15" ry="26" transform="rotate(8 574 326)" stroke-width="6"/>
<ellipse cx="575" cy="327" rx="6" ry="10" stroke-width="6"/>
<path d="M60 262 C40 330 60 410 120 430 C175 440 215 390 218 320 L215 270 Z" fill="#fff" stroke-width="8"/>
<path d="M125 290 C110 330 125 380 150 380 C185 375 200 330 195 290" stroke-width="7"/>
<path d="M68 268 L70 232 C95 190 160 185 205 235 L215 290 L130 292 L105 275 Z" fill="#fff" stroke-width="8"/>
<path d="M112 270 C120 225 170 215 200 262" stroke-width="6"/>
<path d="M105 275 L135 292 L210 290" stroke-width="6"/>
<path d="M72 228 L100 236 L98 250 L70 242 Z" fill="#fff" stroke-width="7"/>
<path d="M205 235 L262 214 L285 212" stroke-width="7"/>
<ellipse cx="330" cy="372" rx="112" ry="135" fill="#fff" transform="rotate(10 330 372)" stroke-width="9"/>
<path d="M222 318 L228 262 C270 215 400 210 440 262 L442 300 C420 250 330 215 268 300 L262 322 Z" fill="#fff" stroke-width="8"/>
<path d="M232 258 L270 266 L266 284 L230 276 Z" fill="#fff" stroke-width="7"/>
<ellipse cx="360" cy="365" rx="52" ry="82" transform="rotate(10 360 365)" stroke-width="8"/>
<path d="M335 300 C310 340 312 410 345 440" stroke-width="6"/>
<ellipse cx="332" cy="357" rx="14" ry="19" stroke-width="7"/>
</g>
<circle cx="67" cy="17.5" r="10.3" fill="url(#lg)"/>
<text transform="translate(67 21.1) scale(1.18 1)" text-anchor="middle" class="lb">1</text>
<circle cx="123.3" cy="48.5" r="10.3" fill="url(#lg)"/>
<text transform="translate(123.3 52.1) scale(1.18 1)" text-anchor="middle" class="lb">2</text>
<circle cx="43.3" cy="224" r="10.3" fill="url(#lg)"/>
<text transform="translate(43.3 227.6) scale(1.18 1)" text-anchor="middle" class="lb">4</text>
<circle cx="118" cy="243.5" r="10.3" fill="url(#lg)"/>
<text transform="translate(118 247.1) scale(1.18 1)" text-anchor="middle" class="lb">3</text>
<circle cx="221.4" cy="274.2" r="10.3" fill="url(#lg)"/>
<text transform="translate(221.4 277.8) scale(1.18 1)" text-anchor="middle" class="lb">7</text>
<circle cx="332.7" cy="168.5" r="10.3" fill="url(#lg)"/>
<text transform="translate(332.7 172.1) scale(1.18 1)" text-anchor="middle" class="lb">2</text>
<circle cx="346" cy="339.2" r="10.3" fill="url(#lg)"/>
<text transform="translate(346 342.8) scale(1.18 1)" text-anchor="middle" class="lb">8</text>
<circle cx="396" cy="374.5" r="10.3" fill="url(#lg)"/>
<text transform="translate(396 378.1) scale(1.18 1)" text-anchor="middle" class="lb">9</text>
<circle cx="471.5" cy="402.5" r="10.3" fill="url(#lg)"/>
<text transform="translate(471.5 406.1) scale(1.18 1)" text-anchor="middle" class="lb">10</text>
<circle cx="483" cy="458.5" r="10.3" fill="url(#lg)"/>
<text transform="translate(483 462.1) scale(1.18 1)" text-anchor="middle" class="lb">11</text>
<circle cx="540.3" cy="208.6" r="10.3" fill="url(#lg)"/>
<text transform="translate(540.3 212.2) scale(1.18 1)" text-anchor="middle" class="lb">13</text>
<circle cx="567.1" cy="220.7" r="10.3" fill="url(#lg)"/>
<text transform="translate(567.1 224.29999999999998) scale(1.18 1)" text-anchor="middle" class="lb">14</text>
<circle cx="610.4" cy="235.7" r="10.3" fill="url(#lg)"/>
<text transform="translate(610.4 239.29999999999998) scale(1.18 1)" text-anchor="middle" class="lb">15</text>
<circle cx="645.2" cy="267.5" r="10.3" fill="url(#lg)"/>
<text transform="translate(645.2 271.1) scale(1.18 1)" text-anchor="middle" class="lb">17</text>
<circle cx="689" cy="316.5" r="10.3" fill="url(#lg)"/>
<text transform="translate(689 320.1) scale(1.18 1)" text-anchor="middle" class="lb">20</text>
<circle cx="561" cy="529.5" r="10.3" fill="url(#lg)"/>
<text transform="translate(561 533.1) scale(1.18 1)" text-anchor="middle" class="lb">21</text>
<circle cx="662" cy="525" r="10.3" fill="url(#lg)"/>
<text transform="translate(662 528.6) scale(1.18 1)" text-anchor="middle" class="lb">22</text>
<circle cx="713" cy="491" r="10.3" fill="url(#lg)"/>
<text transform="translate(713 494.6) scale(1.18 1)" text-anchor="middle" class="lb">23</text>
</svg></body></html>
